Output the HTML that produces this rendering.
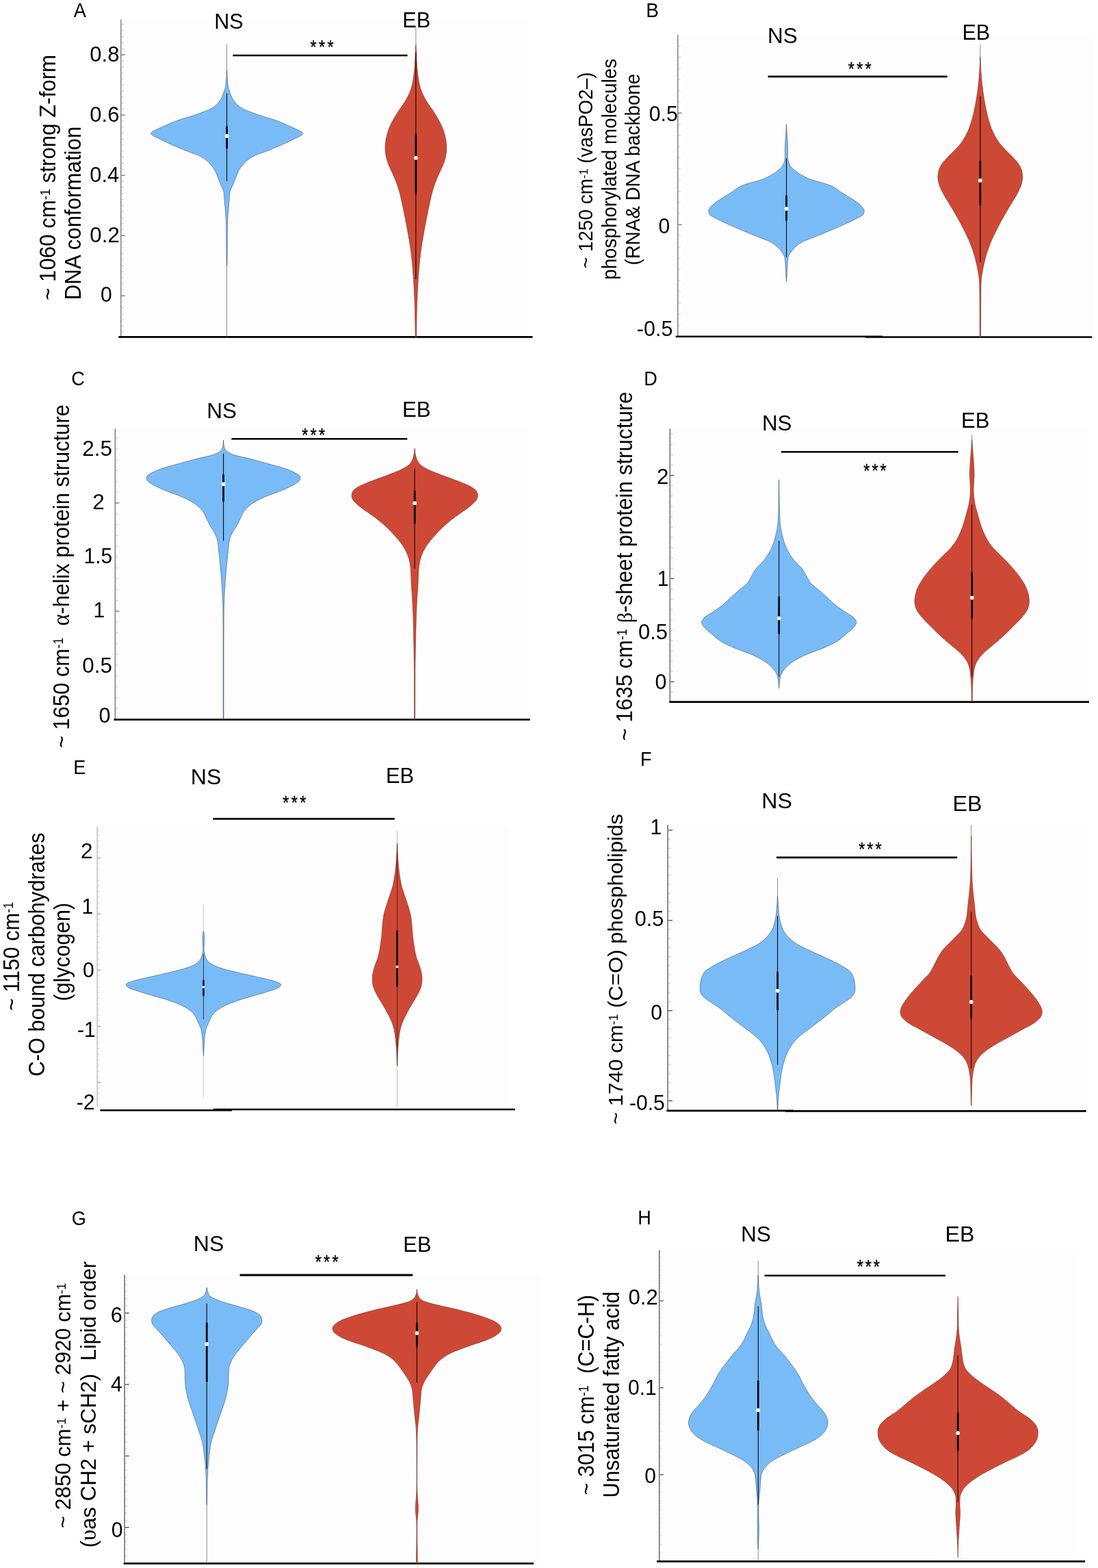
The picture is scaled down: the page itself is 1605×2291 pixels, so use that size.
<!DOCTYPE html>
<html lang="en"><head><meta charset="utf-8"><title>Violin plots of Raman band intensities: NS vs EB</title>
<style>
html,body{margin:0;padding:0;background:#fff;}
body{width:1605px;height:2291px;overflow:hidden;}
svg{display:block;font-family:"Liberation Sans",Arial,Helvetica,sans-serif;}
</style></head><body>
<svg xmlns="http://www.w3.org/2000/svg" width="1605" height="2291" viewBox="0 0 1605 2291">
<rect width="1605" height="2291" fill="#fff"/>
<rect x="177" y="28" width="594.5" height="464" fill="#fdfdfd"/>
<line x1="176.8" y1="28.4" x2="176.8" y2="494" stroke="#555" stroke-width="1.1"/>
<line x1="177.35" y1="36.1" x2="180.8" y2="36.1" stroke="#a8a8a8" stroke-width="0.7"/>
<line x1="177.35" y1="44.9" x2="180.8" y2="44.9" stroke="#a8a8a8" stroke-width="0.7"/>
<line x1="177.35" y1="53.7" x2="180.8" y2="53.7" stroke="#a8a8a8" stroke-width="0.7"/>
<line x1="177.35" y1="62.5" x2="180.8" y2="62.5" stroke="#a8a8a8" stroke-width="0.7"/>
<line x1="177.35" y1="71.3" x2="180.8" y2="71.3" stroke="#a8a8a8" stroke-width="0.7"/>
<line x1="177.35" y1="80.1" x2="182.8" y2="80.1" stroke="#4a4a4a" stroke-width="1"/>
<line x1="177.35" y1="88.9" x2="180.8" y2="88.9" stroke="#a8a8a8" stroke-width="0.7"/>
<line x1="177.35" y1="97.7" x2="180.8" y2="97.7" stroke="#a8a8a8" stroke-width="0.7"/>
<line x1="177.35" y1="106.5" x2="180.8" y2="106.5" stroke="#a8a8a8" stroke-width="0.7"/>
<line x1="177.35" y1="115.3" x2="180.8" y2="115.3" stroke="#a8a8a8" stroke-width="0.7"/>
<line x1="177.35" y1="124.1" x2="180.8" y2="124.1" stroke="#a8a8a8" stroke-width="0.7"/>
<line x1="177.35" y1="132.9" x2="180.8" y2="132.9" stroke="#a8a8a8" stroke-width="0.7"/>
<line x1="177.35" y1="141.7" x2="180.8" y2="141.7" stroke="#a8a8a8" stroke-width="0.7"/>
<line x1="177.35" y1="150.5" x2="180.8" y2="150.5" stroke="#a8a8a8" stroke-width="0.7"/>
<line x1="177.35" y1="159.3" x2="180.8" y2="159.3" stroke="#a8a8a8" stroke-width="0.7"/>
<line x1="177.35" y1="168.1" x2="182.8" y2="168.1" stroke="#4a4a4a" stroke-width="1"/>
<line x1="177.35" y1="176.9" x2="180.8" y2="176.9" stroke="#a8a8a8" stroke-width="0.7"/>
<line x1="177.35" y1="185.7" x2="180.8" y2="185.7" stroke="#a8a8a8" stroke-width="0.7"/>
<line x1="177.35" y1="194.5" x2="180.8" y2="194.5" stroke="#a8a8a8" stroke-width="0.7"/>
<line x1="177.35" y1="203.3" x2="180.8" y2="203.3" stroke="#a8a8a8" stroke-width="0.7"/>
<line x1="177.35" y1="212.1" x2="180.8" y2="212.1" stroke="#a8a8a8" stroke-width="0.7"/>
<line x1="177.35" y1="220.9" x2="180.8" y2="220.9" stroke="#a8a8a8" stroke-width="0.7"/>
<line x1="177.35" y1="229.7" x2="180.8" y2="229.7" stroke="#a8a8a8" stroke-width="0.7"/>
<line x1="177.35" y1="238.5" x2="180.8" y2="238.5" stroke="#a8a8a8" stroke-width="0.7"/>
<line x1="177.35" y1="247.3" x2="180.8" y2="247.3" stroke="#a8a8a8" stroke-width="0.7"/>
<line x1="177.35" y1="256.1" x2="182.8" y2="256.1" stroke="#4a4a4a" stroke-width="1"/>
<line x1="177.35" y1="264.9" x2="180.8" y2="264.9" stroke="#a8a8a8" stroke-width="0.7"/>
<line x1="177.35" y1="273.7" x2="180.8" y2="273.7" stroke="#a8a8a8" stroke-width="0.7"/>
<line x1="177.35" y1="282.5" x2="180.8" y2="282.5" stroke="#a8a8a8" stroke-width="0.7"/>
<line x1="177.35" y1="291.3" x2="180.8" y2="291.3" stroke="#a8a8a8" stroke-width="0.7"/>
<line x1="177.35" y1="300.1" x2="180.8" y2="300.1" stroke="#a8a8a8" stroke-width="0.7"/>
<line x1="177.35" y1="308.9" x2="180.8" y2="308.9" stroke="#a8a8a8" stroke-width="0.7"/>
<line x1="177.35" y1="317.7" x2="180.8" y2="317.7" stroke="#a8a8a8" stroke-width="0.7"/>
<line x1="177.35" y1="326.5" x2="180.8" y2="326.5" stroke="#a8a8a8" stroke-width="0.7"/>
<line x1="177.35" y1="335.3" x2="180.8" y2="335.3" stroke="#a8a8a8" stroke-width="0.7"/>
<line x1="177.35" y1="344.1" x2="182.8" y2="344.1" stroke="#4a4a4a" stroke-width="1"/>
<line x1="177.35" y1="352.9" x2="180.8" y2="352.9" stroke="#a8a8a8" stroke-width="0.7"/>
<line x1="177.35" y1="361.7" x2="180.8" y2="361.7" stroke="#a8a8a8" stroke-width="0.7"/>
<line x1="177.35" y1="370.5" x2="180.8" y2="370.5" stroke="#a8a8a8" stroke-width="0.7"/>
<line x1="177.35" y1="379.3" x2="180.8" y2="379.3" stroke="#a8a8a8" stroke-width="0.7"/>
<line x1="177.35" y1="388.1" x2="180.8" y2="388.1" stroke="#a8a8a8" stroke-width="0.7"/>
<line x1="177.35" y1="396.9" x2="180.8" y2="396.9" stroke="#a8a8a8" stroke-width="0.7"/>
<line x1="177.35" y1="405.7" x2="180.8" y2="405.7" stroke="#a8a8a8" stroke-width="0.7"/>
<line x1="177.35" y1="414.5" x2="180.8" y2="414.5" stroke="#a8a8a8" stroke-width="0.7"/>
<line x1="177.35" y1="423.3" x2="180.8" y2="423.3" stroke="#a8a8a8" stroke-width="0.7"/>
<line x1="177.35" y1="432.1" x2="182.8" y2="432.1" stroke="#4a4a4a" stroke-width="1"/>
<line x1="177.35" y1="440.9" x2="180.8" y2="440.9" stroke="#a8a8a8" stroke-width="0.7"/>
<line x1="177.35" y1="449.7" x2="180.8" y2="449.7" stroke="#a8a8a8" stroke-width="0.7"/>
<line x1="177.35" y1="458.5" x2="180.8" y2="458.5" stroke="#a8a8a8" stroke-width="0.7"/>
<line x1="177.35" y1="467.3" x2="180.8" y2="467.3" stroke="#a8a8a8" stroke-width="0.7"/>
<line x1="177.35" y1="476.1" x2="180.8" y2="476.1" stroke="#a8a8a8" stroke-width="0.7"/>
<line x1="177.35" y1="484.9" x2="180.8" y2="484.9" stroke="#a8a8a8" stroke-width="0.7"/>
<line x1="173.3" y1="492.3" x2="778.5" y2="492.3" stroke="#000" stroke-width="2.7"/>
<text transform="translate(131.36,90.3) scale(0.9685,1)" font-size="32" fill="#000" xml:space="preserve">0.8</text>
<text transform="translate(131.36,178.4) scale(0.9685,1)" font-size="32" fill="#000" xml:space="preserve">0.6</text>
<text transform="translate(131.37,266) scale(0.9612,1)" font-size="32" fill="#000" xml:space="preserve">0.4</text>
<text transform="translate(131.35,353.6) scale(0.9760,1)" font-size="32" fill="#000" xml:space="preserve">0.2</text>
<text transform="translate(146.98,441.3) scale(0.9400,1)" font-size="32" fill="#000" xml:space="preserve">0</text>
<text transform="translate(107.78,24.7) scale(0.9200,1)" font-size="29.5" fill="#000" xml:space="preserve">A</text>
<text transform="translate(80.8,438.81) rotate(-90) scale(0.9325,1)" font-size="33.5" fill="#000" xml:space="preserve"><tspan x="0" y="0" font-size="33.5">~ 1060 cm</tspan><tspan x="157.36" y="-8.21" font-size="19.43">-1</tspan><tspan x="174.64" y="0" font-size="33.5"> strong Z-form</tspan></text>
<text transform="translate(117.7,438.2) rotate(-90) scale(0.9330,1)" font-size="33.5" fill="#000" xml:space="preserve">DNA conformation</text>
<text transform="translate(313.25,42) scale(0.9514,1)" font-size="32.2" fill="#000" xml:space="preserve">NS</text>
<text transform="translate(588.13,39.9) scale(0.9576,1)" font-size="32.2" fill="#000" xml:space="preserve">EB</text>
<line x1="340.5" y1="81" x2="595.6" y2="81" stroke="#000" stroke-width="2.4"/>
<text transform="translate(453.45,78.26) scale(0.8600,1)" font-size="27.5" fill="#000" letter-spacing="3.8" stroke="#000" stroke-width="0.35" xml:space="preserve">***</text>
<line x1="331.58" y1="64.63" x2="331.58" y2="492" stroke="#5c5c5c" stroke-width="0.7"/>
<path d="M331.58,102.76C331.84,106.6 332.12,110.44 332.41,114.28C332.68,117.77 332.82,121.27 333.25,124.76C333.69,128.25 334.99,131.74 336.19,135.23C337.38,138.73 338.72,142.22 340.79,145.71C342.87,149.2 345.84,152.69 350.43,156.19C355.02,159.68 365.31,163.17 374.53,166.66C383.75,170.15 397.92,173.64 407,177.14C416.08,180.63 422.83,184.12 430.47,187.61C433.52,189.01 437.6,190.41 439.48,191.8C440.88,192.85 442.62,193.9 442.62,194.95C442.62,195.99 441.15,197.04 439.9,198.09C438.23,199.48 434.16,200.88 431.31,202.28C427.03,204.37 423.02,206.47 418.52,208.56C411.03,212.06 402.8,215.55 394.43,219.04C386.06,222.53 373.9,226.02 368.24,229.52C362.58,233.01 358.76,236.5 355.67,239.99C352.58,243.48 350.11,246.98 348.34,250.47C346.56,253.96 345.58,257.45 344.15,260.94C342.72,264.43 341.14,267.93 339.75,271.42C338.35,274.91 336.13,278.4 335.77,281.89C335.4,285.39 335.38,288.88 335.14,292.37C334.65,299.35 333.64,306.34 333.25,313.32C332.87,320.31 332.48,327.29 332.41,334.27C332.28,348.24 332.35,362.21 332.2,376.18C332.16,380.37 331.83,384.56 331.58,388.75L331.58,388.75C331.32,384.56 330.99,380.37 330.95,376.18C330.8,362.21 330.87,348.24 330.74,334.27C330.67,327.29 330.29,320.31 329.9,313.32C329.51,306.34 328.51,299.35 328.01,292.37C327.77,288.88 327.75,285.39 327.39,281.89C327.02,278.4 324.8,274.91 323.4,271.42C322.01,267.93 320.44,264.43 319,260.94C317.57,257.45 316.59,253.96 314.81,250.47C313.04,246.98 310.57,243.48 307.48,239.99C304.39,236.5 300.57,233.01 294.91,229.52C289.25,226.02 277.09,222.53 268.72,219.04C260.36,215.55 252.13,212.06 244.63,208.56C240.13,206.47 236.13,204.37 231.85,202.28C228.99,200.88 224.93,199.48 223.26,198.09C222,197.04 220.53,195.99 220.53,194.95C220.53,193.9 222.27,192.85 223.68,191.8C225.55,190.41 229.63,189.01 232.68,187.61C240.32,184.12 247.07,180.63 256.15,177.14C265.23,173.64 279.4,170.15 288.63,166.66C297.85,163.17 308.13,159.68 312.72,156.19C317.31,152.69 320.28,149.2 322.36,145.71C324.44,142.22 325.77,138.73 326.97,135.23C328.16,131.74 329.47,128.25 329.9,124.76C330.33,121.27 330.47,117.77 330.74,114.28C331.03,110.44 331.31,106.6 331.58,102.76Z" fill="#78bbf7" stroke="#2c3844" stroke-width="0.5" stroke-linejoin="round"/>
<line x1="331.58" y1="136.28" x2="331.58" y2="264.71" stroke="#120606" stroke-width="1.1"/>
<line x1="331.58" y1="185.52" x2="331.58" y2="216.11" stroke="#000" stroke-width="2.7" stroke-linecap="round"/>
<circle cx="331.58" cy="198.72" r="2.9" fill="#fff"/>
<line x1="607.89" y1="39.28" x2="607.89" y2="492" stroke="#5c5c5c" stroke-width="0.7"/>
<path d="M607.89,65.47C608.12,69.11 608.35,72.75 608.55,76.39C608.95,83.66 609.11,90.94 609.64,98.21C610.16,105.49 611.17,112.76 612.47,120.03C613.13,123.67 614.12,127.31 615.31,130.95C616.5,134.58 618.27,138.22 620.11,141.86C621.96,145.5 624.31,149.13 626.66,152.77C629.01,156.41 631.95,160.05 634.3,163.68C636.65,167.32 638.86,170.96 640.85,174.6C642.83,178.23 644.83,181.87 646.3,185.51C647.78,189.15 649.1,192.78 650.01,196.42C650.93,200.06 651.86,203.7 652.2,207.33C652.53,210.97 652.85,214.61 652.85,218.25C652.85,221.88 652.02,225.52 651.32,229.16C650.63,232.79 649.37,236.43 648.05,240.07C646.73,243.71 644.67,247.34 643.03,250.98C641.39,254.62 639.67,258.26 638.23,261.89C636.79,265.53 635.49,269.17 634.3,272.81C633.11,276.44 631.97,280.08 631.03,283.72C629.15,290.99 627.75,298.27 626.22,305.54C624.7,312.82 623.24,320.09 621.86,327.37C620.48,334.64 619.12,341.92 617.93,349.19C616.74,356.47 615.53,363.74 614.66,371.02C613.78,378.29 613.07,385.57 612.47,392.84C611.88,400.12 611.37,407.39 610.95,414.67C610.52,421.94 610.13,429.22 609.86,436.49C609.58,443.77 609.38,451.04 609.2,458.32C609.03,465.59 608.91,472.86 608.76,480.14C608.69,483.78 608.71,487.41 608.55,491.05C608.51,491.92 608.15,492.8 607.89,493.67L607.89,493.67C607.63,492.8 607.28,491.92 607.24,491.05C607.07,487.41 607.09,483.78 607.02,480.14C606.87,472.86 606.76,465.59 606.58,458.32C606.41,451.04 606.2,443.77 605.93,436.49C605.65,429.22 605.26,421.94 604.84,414.67C604.41,407.39 603.91,400.12 603.31,392.84C602.71,385.57 602,378.29 601.13,371.02C600.25,363.74 599.04,356.47 597.85,349.19C596.66,341.92 595.3,334.64 593.92,327.37C592.55,320.09 591.08,312.82 589.56,305.54C588.03,298.27 586.64,290.99 584.76,283.72C583.82,280.08 582.67,276.44 581.48,272.81C580.29,269.17 579,265.53 577.56,261.89C576.12,258.26 574.39,254.62 572.75,250.98C571.12,247.34 569.06,243.71 567.73,240.07C566.41,236.43 565.16,232.79 564.46,229.16C563.77,225.52 562.93,221.88 562.93,218.25C562.93,214.61 563.25,210.97 563.59,207.33C563.92,203.7 564.85,200.06 565.77,196.42C566.69,192.78 568.01,189.15 569.48,185.51C570.95,181.87 572.95,178.23 574.94,174.6C576.92,170.96 579.13,167.32 581.48,163.68C583.83,160.05 586.77,156.41 589.12,152.77C591.47,149.13 593.82,145.5 595.67,141.86C597.52,138.22 599.28,134.58 600.47,130.95C601.66,127.31 602.65,123.67 603.31,120.03C604.62,112.76 605.62,105.49 606.15,98.21C606.67,90.94 606.84,83.66 607.24,76.39C607.44,72.75 607.66,69.11 607.89,65.47Z" fill="#cd4935" stroke="#5e241b" stroke-width="0.5" stroke-linejoin="round"/>
<line x1="607.89" y1="76.39" x2="607.89" y2="408.12" stroke="#120606" stroke-width="1.1"/>
<line x1="607.89" y1="196.86" x2="607.89" y2="282.41" stroke="#000" stroke-width="2.7" stroke-linecap="round"/>
<circle cx="607.89" cy="230.69" r="2.9" fill="#fff"/>
<rect x="996" y="51.5" width="604" height="440.5" fill="#fdfdfd"/>
<line x1="990.8" y1="51.1" x2="990.8" y2="493" stroke="#555" stroke-width="1.1"/>
<line x1="991.35" y1="67.18" x2="994.8" y2="67.18" stroke="#a8a8a8" stroke-width="0.7"/>
<line x1="991.35" y1="83.5" x2="994.8" y2="83.5" stroke="#a8a8a8" stroke-width="0.7"/>
<line x1="991.35" y1="99.82" x2="994.8" y2="99.82" stroke="#a8a8a8" stroke-width="0.7"/>
<line x1="991.35" y1="116.14" x2="994.8" y2="116.14" stroke="#a8a8a8" stroke-width="0.7"/>
<line x1="991.35" y1="132.46" x2="994.8" y2="132.46" stroke="#a8a8a8" stroke-width="0.7"/>
<line x1="991.35" y1="148.78" x2="994.8" y2="148.78" stroke="#a8a8a8" stroke-width="0.7"/>
<line x1="991.35" y1="165.1" x2="996.8" y2="165.1" stroke="#4a4a4a" stroke-width="1"/>
<line x1="991.35" y1="181.42" x2="994.8" y2="181.42" stroke="#a8a8a8" stroke-width="0.7"/>
<line x1="991.35" y1="197.74" x2="994.8" y2="197.74" stroke="#a8a8a8" stroke-width="0.7"/>
<line x1="991.35" y1="214.06" x2="994.8" y2="214.06" stroke="#a8a8a8" stroke-width="0.7"/>
<line x1="991.35" y1="230.38" x2="994.8" y2="230.38" stroke="#a8a8a8" stroke-width="0.7"/>
<line x1="991.35" y1="246.7" x2="994.8" y2="246.7" stroke="#a8a8a8" stroke-width="0.7"/>
<line x1="991.35" y1="263.02" x2="994.8" y2="263.02" stroke="#a8a8a8" stroke-width="0.7"/>
<line x1="991.35" y1="279.34" x2="994.8" y2="279.34" stroke="#a8a8a8" stroke-width="0.7"/>
<line x1="991.35" y1="295.66" x2="994.8" y2="295.66" stroke="#a8a8a8" stroke-width="0.7"/>
<line x1="991.35" y1="311.98" x2="994.8" y2="311.98" stroke="#a8a8a8" stroke-width="0.7"/>
<line x1="991.35" y1="328.3" x2="996.8" y2="328.3" stroke="#4a4a4a" stroke-width="1"/>
<line x1="991.35" y1="344.62" x2="994.8" y2="344.62" stroke="#a8a8a8" stroke-width="0.7"/>
<line x1="991.35" y1="360.94" x2="994.8" y2="360.94" stroke="#a8a8a8" stroke-width="0.7"/>
<line x1="991.35" y1="377.26" x2="994.8" y2="377.26" stroke="#a8a8a8" stroke-width="0.7"/>
<line x1="991.35" y1="393.58" x2="994.8" y2="393.58" stroke="#a8a8a8" stroke-width="0.7"/>
<line x1="991.35" y1="409.9" x2="994.8" y2="409.9" stroke="#a8a8a8" stroke-width="0.7"/>
<line x1="991.35" y1="426.22" x2="994.8" y2="426.22" stroke="#a8a8a8" stroke-width="0.7"/>
<line x1="991.35" y1="442.54" x2="994.8" y2="442.54" stroke="#a8a8a8" stroke-width="0.7"/>
<line x1="991.35" y1="458.86" x2="994.8" y2="458.86" stroke="#a8a8a8" stroke-width="0.7"/>
<line x1="991.35" y1="475.18" x2="994.8" y2="475.18" stroke="#a8a8a8" stroke-width="0.7"/>
<line x1="987.7" y1="491.8" x2="1290" y2="491.8" stroke="#000" stroke-width="2.5"/>
<line x1="1265" y1="492.6" x2="1596.4" y2="492.6" stroke="#000" stroke-width="2.5"/>
<text transform="translate(948.79,176.6) scale(0.9447,1)" font-size="32" fill="#000" xml:space="preserve">0.5</text>
<text transform="translate(962.43,341.2) scale(0.9400,1)" font-size="32" fill="#000" xml:space="preserve">0</text>
<text transform="translate(930.83,491.3) scale(0.9537,1)" font-size="32" fill="#000" xml:space="preserve">-0.5</text>
<text transform="translate(944.26,24.5) scale(0.9504,1)" font-size="29.5" fill="#000" xml:space="preserve">B</text>
<text transform="translate(866.2,392.06) rotate(-90) scale(0.9726,1)" font-size="28.7" fill="#000" xml:space="preserve"><tspan x="0" y="0" font-size="28.7">~ 1250 cm</tspan><tspan x="134.81" y="-7.03" font-size="16.65">-1</tspan><tspan x="149.62" y="0" font-size="28.7"> (vasPO2–)</tspan></text>
<text transform="translate(900.7,408.81) rotate(-90) scale(0.9691,1)" font-size="28.7" fill="#000" xml:space="preserve">phosphorylated molecules</text>
<text transform="translate(935,387.47) rotate(-90) scale(0.9695,1)" font-size="28.7" fill="#000" xml:space="preserve">(RNA&amp; DNA backbone</text>
<text transform="translate(1121.88,62.5) scale(0.9785,1)" font-size="32.2" fill="#000" xml:space="preserve">NS</text>
<text transform="translate(1406.45,57.7) scale(0.9500,1)" font-size="32.2" fill="#000" xml:space="preserve">EB</text>
<line x1="1122.6" y1="111.8" x2="1384.7" y2="111.8" stroke="#000" stroke-width="2.8"/>
<text transform="translate(1239.75,110.46) scale(0.8600,1)" font-size="27.5" fill="#000" letter-spacing="3.74" stroke="#000" stroke-width="0.35" xml:space="preserve">***</text>
<path d="M1149.54,181.33C1149.92,186.91 1150.27,192.5 1150.58,198.09C1150.97,205.07 1151.63,212.06 1151.63,219.04C1151.63,222.53 1151.42,226.02 1151.42,229.52C1151.42,231.61 1151.98,233.71 1152.47,235.8C1152.96,237.9 1153.8,239.99 1154.98,242.09C1156.56,244.88 1159.99,247.67 1163.57,250.47C1168.05,253.96 1174.14,257.45 1182.01,260.94C1189.89,264.43 1207.63,267.93 1214.91,271.42C1222.18,274.91 1225.73,278.4 1231.25,281.89C1236.76,285.39 1243.22,288.88 1248.01,292.37C1252.8,295.86 1258.15,299.35 1260.58,302.85C1261.79,304.59 1263.3,306.34 1263.3,308.08C1263.3,309.83 1262.54,311.58 1261.63,313.32C1260.54,315.42 1255.54,317.51 1251.78,319.61C1249.28,321 1246.16,322.4 1243.19,323.8C1235.76,327.29 1227.82,330.78 1219.73,334.27C1211.63,337.77 1202.89,341.26 1194.58,344.75C1186.27,348.24 1175.16,351.73 1169.86,355.22C1164.56,358.72 1160.8,362.21 1158.13,365.7C1155.46,369.19 1152.65,372.68 1152.05,376.18C1151.46,379.67 1151.2,383.16 1151,386.65C1150.8,390.14 1150.76,393.64 1150.58,397.13C1150.34,402.02 1149.98,406.91 1149.54,411.79L1149.54,411.79C1149.1,406.91 1148.74,402.02 1148.49,397.13C1148.31,393.64 1148.27,390.14 1148.07,386.65C1147.87,383.16 1147.62,379.67 1147.02,376.18C1146.43,372.68 1143.62,369.19 1140.95,365.7C1138.28,362.21 1134.52,358.72 1129.21,355.22C1123.91,351.73 1112.8,348.24 1104.49,344.75C1096.18,341.26 1087.44,337.77 1079.35,334.27C1071.26,330.78 1063.31,327.29 1055.88,323.8C1052.91,322.4 1049.8,321 1047.29,319.61C1043.54,317.51 1038.54,315.42 1037.45,313.32C1036.54,311.58 1035.77,309.83 1035.77,308.08C1035.77,306.34 1037.28,304.59 1038.49,302.85C1040.92,299.35 1046.28,295.86 1051.07,292.37C1055.85,288.88 1062.31,285.39 1067.83,281.89C1073.34,278.4 1076.89,274.91 1084.17,271.42C1091.45,267.93 1109.19,264.43 1117.06,260.94C1124.94,257.45 1131.02,253.96 1135.5,250.47C1139.08,247.67 1142.52,244.88 1144.09,242.09C1145.27,239.99 1146.11,237.9 1146.6,235.8C1147.1,233.71 1147.65,231.61 1147.65,229.52C1147.65,226.02 1147.44,222.53 1147.44,219.04C1147.44,212.06 1148.1,205.07 1148.49,198.09C1148.8,192.5 1149.16,186.91 1149.54,181.33Z" fill="#78bbf7" stroke="#2c3844" stroke-width="0.5" stroke-linejoin="round"/>
<line x1="1149.54" y1="231.19" x2="1149.54" y2="375.76" stroke="#120606" stroke-width="1.1"/>
<line x1="1149.54" y1="286.5" x2="1149.54" y2="321.7" stroke="#000" stroke-width="2.7" stroke-linecap="round"/>
<circle cx="1149.54" cy="304.94" r="2.9" fill="#fff"/>
<line x1="1432.89" y1="65.46" x2="1432.89" y2="492" stroke="#5c5c5c" stroke-width="0.7"/>
<path d="M1432.89,82.85C1433.1,89.84 1433.49,96.82 1433.94,103.81C1434.39,110.79 1435.06,117.77 1435.82,124.76C1436.59,131.74 1437.61,138.73 1438.76,145.71C1439.91,152.69 1441.27,159.68 1442.95,166.66C1444.62,173.64 1446.63,180.63 1449.23,187.61C1450.53,191.1 1452.21,194.6 1454.05,198.09C1455.89,201.58 1458.01,205.07 1460.55,208.56C1463.09,212.06 1466.5,215.55 1469.76,219.04C1473.03,222.53 1477.01,226.02 1480.24,229.52C1483.47,233.01 1487.22,236.5 1489.25,239.99C1491.28,243.48 1493.19,246.98 1493.86,250.47C1494.39,253.26 1494.91,256.05 1494.91,258.85C1494.91,261.64 1494.24,264.43 1493.65,267.23C1492.62,272.12 1489.96,277.01 1487.57,281.89C1485.87,285.39 1483.55,288.88 1481.5,292.37C1477.39,299.35 1472.9,306.34 1468.93,313.32C1464.96,320.31 1461.12,327.29 1457.61,334.27C1454.1,341.26 1450.52,348.24 1447.77,355.22C1445.01,362.21 1442.51,369.19 1440.64,376.18C1438.78,383.16 1437.2,390.14 1436.03,397.13C1435.45,400.62 1434.86,404.11 1434.57,407.6C1434.27,411.1 1434,414.59 1433.94,418.08C1433.81,425.06 1433.77,432.05 1433.73,439.03C1433.62,456.49 1433.71,473.95 1433.52,491.41C1433.51,492.25 1433.11,493.09 1432.89,493.92L1432.89,493.92C1432.67,493.09 1432.27,492.25 1432.26,491.41C1432.07,473.95 1432.16,456.49 1432.05,439.03C1432.01,432.05 1431.97,425.06 1431.84,418.08C1431.78,414.59 1431.51,411.1 1431.21,407.6C1430.92,404.11 1430.33,400.62 1429.75,397.13C1428.58,390.14 1427,383.16 1425.14,376.18C1423.27,369.19 1420.77,362.21 1418.01,355.22C1415.26,348.24 1411.68,341.26 1408.17,334.27C1404.66,327.29 1400.82,320.31 1396.85,313.32C1392.88,306.34 1388.39,299.35 1384.28,292.37C1382.23,288.88 1379.91,285.39 1378.21,281.89C1375.82,277.01 1373.16,272.12 1372.13,267.23C1371.54,264.43 1370.87,261.64 1370.87,258.85C1370.87,256.05 1371.39,253.26 1371.92,250.47C1372.59,246.98 1374.5,243.48 1376.53,239.99C1378.56,236.5 1382.31,233.01 1385.54,229.52C1388.77,226.02 1392.75,222.53 1396.01,219.04C1399.28,215.55 1402.69,212.06 1405.23,208.56C1407.77,205.07 1409.88,201.58 1411.73,198.09C1413.57,194.6 1415.25,191.1 1416.55,187.61C1419.14,180.63 1421.16,173.64 1422.83,166.66C1424.51,159.68 1425.87,152.69 1427.02,145.71C1428.17,138.73 1429.19,131.74 1429.96,124.76C1430.72,117.77 1431.39,110.79 1431.84,103.81C1432.29,96.82 1432.68,89.84 1432.89,82.85Z" fill="#cd4935" stroke="#5e241b" stroke-width="0.5" stroke-linejoin="round"/>
<line x1="1432.89" y1="140.47" x2="1432.89" y2="383.09" stroke="#120606" stroke-width="1.1"/>
<line x1="1432.89" y1="236.22" x2="1432.89" y2="298.87" stroke="#000" stroke-width="2.7" stroke-linecap="round"/>
<circle cx="1432.89" cy="263.67" r="2.9" fill="#fff"/>
<rect x="168.5" y="626.5" width="605.7" height="425" fill="#fdfdfd"/>
<line x1="168.3" y1="626.6" x2="168.3" y2="1052.5" stroke="#555" stroke-width="1.1"/>
<line x1="168.85" y1="640.2" x2="172.3" y2="640.2" stroke="#a8a8a8" stroke-width="0.7"/>
<line x1="168.85" y1="656" x2="172.3" y2="656" stroke="#a8a8a8" stroke-width="0.7"/>
<line x1="168.85" y1="671.8" x2="172.3" y2="671.8" stroke="#a8a8a8" stroke-width="0.7"/>
<line x1="168.85" y1="687.6" x2="172.3" y2="687.6" stroke="#a8a8a8" stroke-width="0.7"/>
<line x1="168.85" y1="703.4" x2="172.3" y2="703.4" stroke="#a8a8a8" stroke-width="0.7"/>
<line x1="168.85" y1="719.2" x2="172.3" y2="719.2" stroke="#a8a8a8" stroke-width="0.7"/>
<line x1="168.85" y1="735" x2="174.3" y2="735" stroke="#4a4a4a" stroke-width="1"/>
<line x1="168.85" y1="750.8" x2="172.3" y2="750.8" stroke="#a8a8a8" stroke-width="0.7"/>
<line x1="168.85" y1="766.6" x2="172.3" y2="766.6" stroke="#a8a8a8" stroke-width="0.7"/>
<line x1="168.85" y1="782.4" x2="172.3" y2="782.4" stroke="#a8a8a8" stroke-width="0.7"/>
<line x1="168.85" y1="798.2" x2="172.3" y2="798.2" stroke="#a8a8a8" stroke-width="0.7"/>
<line x1="168.85" y1="814" x2="172.3" y2="814" stroke="#a8a8a8" stroke-width="0.7"/>
<line x1="168.85" y1="829.8" x2="172.3" y2="829.8" stroke="#a8a8a8" stroke-width="0.7"/>
<line x1="168.85" y1="845.6" x2="172.3" y2="845.6" stroke="#a8a8a8" stroke-width="0.7"/>
<line x1="168.85" y1="861.4" x2="172.3" y2="861.4" stroke="#a8a8a8" stroke-width="0.7"/>
<line x1="168.85" y1="877.2" x2="172.3" y2="877.2" stroke="#a8a8a8" stroke-width="0.7"/>
<line x1="168.85" y1="893" x2="174.3" y2="893" stroke="#4a4a4a" stroke-width="1"/>
<line x1="168.85" y1="908.8" x2="172.3" y2="908.8" stroke="#a8a8a8" stroke-width="0.7"/>
<line x1="168.85" y1="924.6" x2="172.3" y2="924.6" stroke="#a8a8a8" stroke-width="0.7"/>
<line x1="168.85" y1="940.4" x2="172.3" y2="940.4" stroke="#a8a8a8" stroke-width="0.7"/>
<line x1="168.85" y1="956.2" x2="172.3" y2="956.2" stroke="#a8a8a8" stroke-width="0.7"/>
<line x1="168.85" y1="972" x2="172.3" y2="972" stroke="#a8a8a8" stroke-width="0.7"/>
<line x1="168.85" y1="987.8" x2="172.3" y2="987.8" stroke="#a8a8a8" stroke-width="0.7"/>
<line x1="168.85" y1="1003.6" x2="172.3" y2="1003.6" stroke="#a8a8a8" stroke-width="0.7"/>
<line x1="168.85" y1="1019.4" x2="172.3" y2="1019.4" stroke="#a8a8a8" stroke-width="0.7"/>
<line x1="168.85" y1="1035.2" x2="172.3" y2="1035.2" stroke="#a8a8a8" stroke-width="0.7"/>
<line x1="166.5" y1="1051.4" x2="774.8" y2="1051.4" stroke="#000" stroke-width="2.7"/>
<text transform="translate(120.14,666.4) scale(0.9850,1)" font-size="32" fill="#000" xml:space="preserve">2.5</text>
<text transform="translate(135.3,743.7) scale(0.9850,1)" font-size="32" fill="#000" xml:space="preserve">2</text>
<text transform="translate(122.52,823.3) scale(0.9400,1)" font-size="32" fill="#000" xml:space="preserve">1.5</text>
<text transform="translate(136.55,901.8) scale(0.9400,1)" font-size="32" fill="#000" xml:space="preserve">1</text>
<text transform="translate(120.34,982.8) scale(0.9828,1)" font-size="32" fill="#000" xml:space="preserve">0.5</text>
<text transform="translate(144.38,1056.3) scale(0.9570,1)" font-size="32" fill="#000" xml:space="preserve">0</text>
<text transform="translate(104.24,563) scale(0.9235,1)" font-size="29.5" fill="#000" xml:space="preserve">C</text>
<text transform="translate(100.7,1093.09) rotate(-90) scale(0.9248,1)" font-size="33.5" fill="#000" xml:space="preserve"><tspan x="0" y="0" font-size="33.5">~ 1650 cm</tspan><tspan x="157.36" y="-8.21" font-size="19.43">-1</tspan><tspan x="174.64" y="0" font-size="33.5">  </tspan><tspan x="193.25" y="0" font-size="35.18" font-family="Liberation Serif,serif">α</tspan><tspan x="211.68" y="0" font-size="33.5">-helix protein structure</tspan></text>
<text transform="translate(302.28,611) scale(0.9785,1)" font-size="32.2" fill="#000" xml:space="preserve">NS</text>
<text transform="translate(587.89,609.3) scale(0.9731,1)" font-size="32.2" fill="#000" xml:space="preserve">EB</text>
<line x1="338.4" y1="641.2" x2="595.3" y2="641.2" stroke="#000" stroke-width="2.6"/>
<text transform="translate(441.15,645.36) scale(0.8600,1)" font-size="27.5" fill="#000" letter-spacing="3.8" stroke="#000" stroke-width="0.35" xml:space="preserve">***</text>
<line x1="326.6" y1="643.27" x2="326.6" y2="1051" stroke="#5c5c5c" stroke-width="0.7"/>
<path d="M326.6,643.27C326.6,645.93 327.01,648.58 327.44,651.24C327.78,653.33 328.38,655.43 329.54,657.52C330.69,659.62 334.81,661.71 339.59,663.81C344.38,665.9 356.72,668 364.74,670.09C372.75,672.19 380.27,674.28 387.78,676.38C397.8,679.17 409.37,681.96 417.11,684.76C422.93,686.85 428.35,688.95 431.78,691.04C434.64,692.79 438.09,694.54 438.49,696.28C438.72,697.33 438.9,698.38 438.9,699.42C438.9,700.82 437.57,702.22 436.39,703.61C434.62,705.71 430.19,707.8 426.33,709.9C422.48,711.99 417.61,714.09 412.71,716.19C404.55,719.68 393.09,723.17 385.69,726.66C378.28,730.15 371.32,733.64 366.83,737.14C362.34,740.63 358.68,744.12 356.36,747.61C354.03,751.1 352.86,754.6 351.12,758.09C349.37,761.58 347.81,765.07 345.88,768.56C343.95,772.06 341.03,775.55 339.38,779.04C337.74,782.53 336.12,786.02 335.4,789.52C334.69,793.01 334.34,796.5 333.94,799.99C333.53,803.48 333.24,806.98 332.89,810.47C332.19,817.45 331.42,824.43 330.79,831.42C330.17,838.4 329.6,845.39 329.12,852.37C328.64,859.35 328.14,866.34 327.86,873.32C327.58,880.31 327.3,887.29 327.23,894.27C327.1,908.24 327.05,922.21 327.02,936.18C326.96,973.89 327.02,1011.6 326.92,1049.31C326.92,1050.01 326.71,1050.71 326.6,1051.41L326.6,1051.41C326.5,1050.71 326.29,1050.01 326.29,1049.31C326.19,1011.6 326.25,973.89 326.19,936.18C326.16,922.21 326.11,908.24 325.98,894.27C325.91,887.29 325.63,880.31 325.35,873.32C325.07,866.34 324.57,859.35 324.09,852.37C323.61,845.39 323.03,838.4 322.41,831.42C321.79,824.43 321.02,817.45 320.32,810.47C319.97,806.98 319.68,803.48 319.27,799.99C318.86,796.5 318.52,793.01 317.8,789.52C317.09,786.02 315.47,782.53 313.82,779.04C312.18,775.55 309.26,772.06 307.33,768.56C305.4,765.07 303.84,761.58 302.09,758.09C300.34,754.6 299.18,751.1 296.85,747.61C294.52,744.12 290.87,740.63 286.38,737.14C281.89,733.64 274.93,730.15 267.52,726.66C260.12,723.17 248.66,719.68 240.49,716.19C235.59,714.09 230.73,711.99 226.87,709.9C223.02,707.8 218.59,705.71 216.82,703.61C215.63,702.22 214.3,700.82 214.3,699.42C214.3,698.38 214.49,697.33 214.72,696.28C215.12,694.54 218.57,692.79 221.43,691.04C224.86,688.95 230.28,686.85 236.09,684.76C243.84,681.96 255.41,679.17 265.43,676.38C272.94,674.28 280.46,672.19 288.47,670.09C296.49,668 308.83,665.9 313.61,663.81C318.4,661.71 322.51,659.62 323.67,657.52C324.83,655.43 325.42,653.33 325.77,651.24C326.2,648.58 326.6,645.93 326.6,643.27Z" fill="#78bbf7" stroke="#2c3844" stroke-width="0.5" stroke-linejoin="round"/>
<line x1="326.6" y1="662.76" x2="326.6" y2="790.14" stroke="#120606" stroke-width="1.1"/>
<line x1="326.6" y1="693.98" x2="326.6" y2="732.11" stroke="#000" stroke-width="2.7" stroke-linecap="round"/>
<circle cx="326.6" cy="707.39" r="2.9" fill="#fff"/>
<line x1="606.19" y1="655.43" x2="606.19" y2="1051" stroke="#5c5c5c" stroke-width="0.7"/>
<path d="M606.19,655.43C606.29,658.22 606.74,661.01 607.23,663.81C607.73,666.6 608.57,669.39 609.75,672.19C610.63,674.28 612,676.38 613.94,678.47C615.87,680.57 619.58,682.66 623.37,684.76C627.15,686.85 632.48,688.95 637.61,691.04C642.75,693.14 648.83,695.23 654.37,697.33C661.77,700.12 669.77,702.92 676.37,705.71C681.32,707.8 686.93,709.9 689.99,711.99C693.05,714.09 695.99,716.19 696.91,718.28C697.67,720.03 698.37,721.77 698.37,723.52C698.37,725.26 697.87,727.01 697.32,728.76C696.46,731.55 692.89,734.34 689.99,737.14C686.37,740.63 681.08,744.12 676.37,747.61C671.67,751.1 666.22,754.6 661.71,758.09C657.19,761.58 652.95,765.07 649.14,768.56C645.33,772.06 641.93,775.55 638.66,779.04C635.39,782.53 632.21,786.02 629.44,789.52C626.68,793.01 623.96,796.5 621.9,799.99C619.84,803.48 617.97,806.98 616.66,810.47C615.35,813.96 614.18,817.45 613.52,820.94C612.85,824.43 612.28,827.93 612.05,831.42C611.59,838.4 611.57,845.39 611.21,852.37C610.86,859.35 610.15,866.34 609.75,873.32C609.34,880.31 608.96,887.29 608.7,894.27C608.44,901.26 608.24,908.24 608.07,915.22C607.9,922.21 607.79,929.19 607.65,936.18C607.51,943.16 607.37,950.14 607.23,957.13C607.09,964.11 606.86,971.1 606.81,978.08C606.67,1001.82 606.8,1025.57 606.6,1049.31C606.6,1050.01 606.33,1050.71 606.19,1051.41L606.19,1051.41C606.04,1050.71 605.77,1050.01 605.77,1049.31C605.57,1025.57 605.7,1001.82 605.56,978.08C605.52,971.1 605.28,964.11 605.14,957.13C605,950.14 604.86,943.16 604.72,936.18C604.58,929.19 604.47,922.21 604.3,915.22C604.13,908.24 603.93,901.26 603.67,894.27C603.41,887.29 603.03,880.31 602.62,873.32C602.22,866.34 601.51,859.35 601.16,852.37C600.8,845.39 600.78,838.4 600.32,831.42C600.09,827.93 599.52,824.43 598.85,820.94C598.19,817.45 597.02,813.96 595.71,810.47C594.4,806.98 592.53,803.48 590.47,799.99C588.41,796.5 585.69,793.01 582.93,789.52C580.16,786.02 576.98,782.53 573.71,779.04C570.44,775.55 567.04,772.06 563.23,768.56C559.43,765.07 555.18,761.58 550.66,758.09C546.15,754.6 540.71,751.1 536,747.61C531.29,744.12 526.01,740.63 522.38,737.14C519.48,734.34 515.91,731.55 515.05,728.76C514.5,727.01 514,725.26 514,723.52C514,721.77 514.7,720.03 515.46,718.28C516.38,716.19 519.32,714.09 522.38,711.99C525.44,709.9 531.05,707.8 536,705.71C542.6,702.92 550.6,700.12 558,697.33C563.54,695.23 569.62,693.14 574.76,691.04C579.89,688.95 585.22,686.85 589,684.76C592.79,682.66 596.5,680.57 598.43,678.47C600.37,676.38 601.74,674.28 602.62,672.19C603.8,669.39 604.64,666.6 605.14,663.81C605.63,661.01 606.08,658.22 606.19,655.43Z" fill="#cd4935" stroke="#5e241b" stroke-width="0.5" stroke-linejoin="round"/>
<line x1="606.19" y1="684.13" x2="606.19" y2="830.79" stroke="#120606" stroke-width="1.1"/>
<line x1="606.19" y1="718.07" x2="606.19" y2="763.95" stroke="#000" stroke-width="2.7" stroke-linecap="round"/>
<circle cx="606.19" cy="735.04" r="2.9" fill="#fff"/>
<rect x="979.5" y="626.3" width="611.8" height="399.7" fill="#fdfdfd"/>
<line x1="979.3" y1="626.2" x2="979.3" y2="1027" stroke="#7c7c80" stroke-width="1.8"/>
<line x1="980.2" y1="634.28" x2="983.3" y2="634.28" stroke="#a8a8a8" stroke-width="0.7"/>
<line x1="980.2" y1="649.36" x2="983.3" y2="649.36" stroke="#a8a8a8" stroke-width="0.7"/>
<line x1="980.2" y1="664.44" x2="983.3" y2="664.44" stroke="#a8a8a8" stroke-width="0.7"/>
<line x1="980.2" y1="679.52" x2="983.3" y2="679.52" stroke="#a8a8a8" stroke-width="0.7"/>
<line x1="980.2" y1="694.6" x2="985.3" y2="694.6" stroke="#4a4a4a" stroke-width="1.3"/>
<line x1="980.2" y1="709.68" x2="983.3" y2="709.68" stroke="#a8a8a8" stroke-width="0.7"/>
<line x1="980.2" y1="724.76" x2="983.3" y2="724.76" stroke="#a8a8a8" stroke-width="0.7"/>
<line x1="980.2" y1="739.84" x2="983.3" y2="739.84" stroke="#a8a8a8" stroke-width="0.7"/>
<line x1="980.2" y1="754.92" x2="983.3" y2="754.92" stroke="#a8a8a8" stroke-width="0.7"/>
<line x1="980.2" y1="770" x2="983.3" y2="770" stroke="#a8a8a8" stroke-width="0.7"/>
<line x1="980.2" y1="785.08" x2="983.3" y2="785.08" stroke="#a8a8a8" stroke-width="0.7"/>
<line x1="980.2" y1="800.16" x2="983.3" y2="800.16" stroke="#a8a8a8" stroke-width="0.7"/>
<line x1="980.2" y1="815.24" x2="983.3" y2="815.24" stroke="#a8a8a8" stroke-width="0.7"/>
<line x1="980.2" y1="830.32" x2="983.3" y2="830.32" stroke="#a8a8a8" stroke-width="0.7"/>
<line x1="980.2" y1="845.4" x2="985.3" y2="845.4" stroke="#4a4a4a" stroke-width="1.3"/>
<line x1="980.2" y1="860.48" x2="983.3" y2="860.48" stroke="#a8a8a8" stroke-width="0.7"/>
<line x1="980.2" y1="875.56" x2="983.3" y2="875.56" stroke="#a8a8a8" stroke-width="0.7"/>
<line x1="980.2" y1="890.64" x2="983.3" y2="890.64" stroke="#a8a8a8" stroke-width="0.7"/>
<line x1="980.2" y1="905.72" x2="983.3" y2="905.72" stroke="#a8a8a8" stroke-width="0.7"/>
<line x1="980.2" y1="920.8" x2="983.3" y2="920.8" stroke="#a8a8a8" stroke-width="0.7"/>
<line x1="980.2" y1="935.88" x2="983.3" y2="935.88" stroke="#a8a8a8" stroke-width="0.7"/>
<line x1="980.2" y1="950.96" x2="983.3" y2="950.96" stroke="#a8a8a8" stroke-width="0.7"/>
<line x1="980.2" y1="966.04" x2="983.3" y2="966.04" stroke="#a8a8a8" stroke-width="0.7"/>
<line x1="980.2" y1="981.12" x2="983.3" y2="981.12" stroke="#a8a8a8" stroke-width="0.7"/>
<line x1="980.2" y1="996.2" x2="985.3" y2="996.2" stroke="#4a4a4a" stroke-width="1.3"/>
<line x1="980.2" y1="1011.28" x2="983.3" y2="1011.28" stroke="#a8a8a8" stroke-width="0.7"/>
<line x1="978.4" y1="1025.6" x2="1592" y2="1025.6" stroke="#000" stroke-width="2.7"/>
<text transform="translate(960.03,706.6) scale(0.9821,1)" font-size="32" fill="#000" xml:space="preserve">2</text>
<text transform="translate(960.85,855.7) scale(0.9400,1)" font-size="32" fill="#000" xml:space="preserve">1</text>
<text transform="translate(932.96,933.6) scale(0.9661,1)" font-size="32" fill="#000" xml:space="preserve">0.5</text>
<text transform="translate(957.58,1007.1) scale(0.9505,1)" font-size="32" fill="#000" xml:space="preserve">0</text>
<text transform="translate(941.3,563.4) scale(0.9200,1)" font-size="29.5" fill="#000" xml:space="preserve">D</text>
<text transform="translate(923.8,1082.51) rotate(-90) scale(0.9372,1)" font-size="33.5" fill="#000" xml:space="preserve"><tspan x="0" y="0" font-size="33.5">~ 1635 cm</tspan><tspan x="157.36" y="-8.21" font-size="19.43">-1</tspan><tspan x="174.64" y="0" font-size="33.5"> </tspan><tspan x="183.95" y="0" font-size="31.82" font-family="Liberation Serif,serif">β</tspan><tspan x="200.14" y="0" font-size="33.5">-sheet protein structure</tspan></text>
<text transform="translate(1113.99,629.3) scale(0.9736,1)" font-size="32.2" fill="#000" xml:space="preserve">NS</text>
<text transform="translate(1405.02,624.6) scale(0.9627,1)" font-size="32.2" fill="#000" xml:space="preserve">EB</text>
<line x1="1141.9" y1="660.3" x2="1400.7" y2="660.3" stroke="#000" stroke-width="2.6"/>
<text transform="translate(1262.25,696.56) scale(0.8600,1)" font-size="27.5" fill="#000" letter-spacing="3.45" stroke="#000" stroke-width="0.35" xml:space="preserve">***</text>
<path d="M1138.7,701.1C1138.82,709.62 1138.96,718.14 1139.12,726.66C1139.24,733.64 1139.34,740.63 1139.54,747.61C1139.67,752.5 1139.85,757.39 1140.17,762.28C1140.39,765.77 1140.87,769.26 1141.42,772.75C1141.87,775.55 1142.65,778.34 1143.31,781.13C1143.97,783.93 1144.58,786.72 1145.4,789.52C1146.43,793.01 1147.67,796.5 1149.18,799.99C1150.68,803.48 1152.65,806.98 1154.83,810.47C1157.01,813.96 1159.64,817.45 1162.58,820.94C1165.53,824.43 1170.31,827.93 1172.85,831.42C1175.39,834.91 1176.87,838.4 1178.93,841.89C1180.99,845.39 1182.42,848.88 1185.21,852.37C1188.01,855.86 1193.77,859.35 1197.78,862.85C1201.79,866.34 1205.46,869.83 1209.31,873.32C1213.15,876.81 1216.53,880.31 1220.83,883.8C1225.13,887.29 1230.43,890.78 1235.5,894.27C1239.55,897.07 1245.72,899.86 1248.07,902.65C1249.83,904.75 1251.84,906.84 1251.84,908.94C1251.84,911.03 1250.37,913.13 1249.11,915.22C1247.02,918.72 1241.6,922.21 1237.59,925.7C1233.58,929.19 1230.26,932.68 1225.02,936.18C1219.78,939.67 1211.96,943.16 1204.07,946.65C1196.17,950.14 1184.26,953.64 1176.83,957.13C1169.4,960.62 1162.74,964.11 1157.97,967.6C1153.21,971.1 1148.98,974.59 1146.45,978.08C1143.92,981.57 1141.57,985.06 1140.79,988.56C1140.02,992.05 1139.71,995.54 1139.33,999.03C1139.08,1001.34 1138.86,1003.64 1138.7,1005.95L1138.7,1005.95C1138.53,1003.64 1138.32,1001.34 1138.07,999.03C1137.69,995.54 1137.38,992.05 1136.6,988.56C1135.83,985.06 1133.48,981.57 1130.95,978.08C1128.42,974.59 1124.19,971.1 1119.42,967.6C1114.66,964.11 1108,960.62 1100.57,957.13C1093.14,953.64 1081.23,950.14 1073.33,946.65C1065.44,943.16 1057.62,939.67 1052.38,936.18C1047.14,932.68 1043.82,929.19 1039.81,925.7C1035.8,922.21 1030.38,918.72 1028.28,915.22C1027.03,913.13 1025.56,911.03 1025.56,908.94C1025.56,906.84 1027.57,904.75 1029.33,902.65C1031.68,899.86 1037.85,897.07 1041.9,894.27C1046.97,890.78 1052.27,887.29 1056.57,883.8C1060.87,880.31 1064.25,876.81 1068.09,873.32C1071.93,869.83 1075.61,866.34 1079.62,862.85C1083.62,859.35 1089.39,855.86 1092.19,852.37C1094.98,848.88 1096.41,845.39 1098.47,841.89C1100.53,838.4 1102,834.91 1104.55,831.42C1107.09,827.93 1111.87,824.43 1114.81,820.94C1117.76,817.45 1120.39,813.96 1122.57,810.47C1124.75,806.98 1126.71,803.48 1128.22,799.99C1129.73,796.5 1130.97,793.01 1131.99,789.52C1132.81,786.72 1133.43,783.93 1134.09,781.13C1134.75,778.34 1135.53,775.55 1135.98,772.75C1136.53,769.26 1137.01,765.77 1137.23,762.28C1137.55,757.39 1137.72,752.5 1137.86,747.61C1138.06,740.63 1138.15,733.64 1138.28,726.66C1138.43,718.14 1138.58,709.62 1138.7,701.1Z" fill="#78bbf7" stroke="#2c3844" stroke-width="0.5" stroke-linejoin="round"/>
<line x1="1138.7" y1="790.14" x2="1138.7" y2="988.56" stroke="#120606" stroke-width="1.1"/>
<line x1="1138.7" y1="872.69" x2="1138.7" y2="925.28" stroke="#000" stroke-width="2.7" stroke-linecap="round"/>
<circle cx="1138.7" cy="903.28" r="2.9" fill="#fff"/>
<line x1="1420.77" y1="635.1" x2="1420.77" y2="1025" stroke="#5c5c5c" stroke-width="0.7"/>
<path d="M1420.77,642.85C1421.36,649.84 1421.92,656.82 1422.44,663.81C1422.96,670.79 1423.7,677.77 1423.91,684.76C1424.01,688.25 1424.12,691.74 1424.12,695.23C1424.12,698.73 1423.66,702.22 1423.49,705.71C1423.32,709.2 1423.07,712.69 1423.07,716.19C1423.07,719.68 1423.39,723.17 1423.7,726.66C1424,730.15 1424.68,733.64 1425.38,737.14C1426.07,740.63 1427.16,744.12 1428.1,747.61C1429.04,751.1 1430.02,754.6 1431.03,758.09C1432.04,761.58 1432.98,765.07 1434.18,768.56C1435.37,772.06 1436.81,775.55 1438.37,779.04C1439.92,782.53 1441.54,786.02 1443.6,789.52C1445.66,793.01 1448.22,796.5 1451.15,799.99C1454.07,803.48 1458.13,806.98 1461.62,810.47C1465.11,813.96 1468.79,817.45 1472.1,820.94C1475.41,824.43 1478.57,827.93 1481.53,831.42C1484.48,834.91 1487.38,838.4 1489.91,841.89C1492.43,845.39 1494.93,848.88 1496.82,852.37C1498.71,855.86 1500.54,859.35 1501.64,862.85C1502.74,866.34 1503.81,869.83 1504.15,873.32C1504.36,875.42 1504.57,877.51 1504.57,879.61C1504.57,882.4 1503.71,885.19 1502.9,887.99C1502.29,890.08 1501.02,892.18 1499.75,894.27C1497.65,897.77 1494.48,901.26 1491.37,904.75C1488.27,908.24 1484.39,911.73 1480.9,915.22C1477.41,918.72 1474.08,922.21 1470.42,925.7C1466.76,929.19 1462.91,932.68 1458.9,936.18C1454.89,939.67 1450.34,943.16 1446.33,946.65C1442.32,950.14 1437.79,953.64 1434.8,957.13C1431.82,960.62 1429.07,964.11 1427.47,967.6C1425.87,971.1 1424.53,974.59 1423.91,978.08C1423.29,981.57 1422.99,985.06 1422.65,988.56C1422.32,992.05 1422,995.54 1421.81,999.03C1421.63,1002.52 1421.47,1006.01 1421.39,1009.51C1421.29,1014.4 1421.36,1019.28 1421.19,1024.17C1421.17,1024.66 1420.92,1025.15 1420.77,1025.64L1420.77,1025.64C1420.61,1025.15 1420.36,1024.66 1420.35,1024.17C1420.17,1019.28 1420.24,1014.4 1420.14,1009.51C1420.06,1006.01 1419.9,1002.52 1419.72,999.03C1419.53,995.54 1419.22,992.05 1418.88,988.56C1418.55,985.06 1418.24,981.57 1417.62,978.08C1417,974.59 1415.66,971.1 1414.06,967.6C1412.46,964.11 1409.72,960.62 1406.73,957.13C1403.74,953.64 1399.21,950.14 1395.21,946.65C1391.2,943.16 1386.64,939.67 1382.63,936.18C1378.63,932.68 1374.77,929.19 1371.11,925.7C1367.45,922.21 1364.13,918.72 1360.64,915.22C1357.14,911.73 1353.26,908.24 1350.16,904.75C1347.06,901.26 1343.89,897.77 1341.78,894.27C1340.51,892.18 1339.25,890.08 1338.64,887.99C1337.82,885.19 1336.96,882.4 1336.96,879.61C1336.96,877.51 1337.17,875.42 1337.38,873.32C1337.73,869.83 1338.79,866.34 1339.89,862.85C1340.99,859.35 1342.82,855.86 1344.71,852.37C1346.61,848.88 1349.1,845.39 1351.63,841.89C1354.15,838.4 1357.05,834.91 1360.01,831.42C1362.96,827.93 1366.13,824.43 1369.43,820.94C1372.74,817.45 1376.42,813.96 1379.91,810.47C1383.4,806.98 1387.46,803.48 1390.39,799.99C1393.31,796.5 1395.87,793.01 1397.93,789.52C1399.99,786.02 1401.61,782.53 1403.17,779.04C1404.72,775.55 1406.16,772.06 1407.36,768.56C1408.55,765.07 1409.49,761.58 1410.5,758.09C1411.51,754.6 1412.49,751.1 1413.43,747.61C1414.37,744.12 1415.46,740.63 1416.16,737.14C1416.85,733.64 1417.53,730.15 1417.83,726.66C1418.14,723.17 1418.46,719.68 1418.46,716.19C1418.46,712.69 1418.21,709.2 1418.04,705.71C1417.87,702.22 1417.41,698.73 1417.41,695.23C1417.41,691.74 1417.52,688.25 1417.62,684.76C1417.83,677.77 1418.57,670.79 1419.09,663.81C1419.61,656.82 1420.17,649.84 1420.77,642.85Z" fill="#cd4935" stroke="#5e241b" stroke-width="0.5" stroke-linejoin="round"/>
<line x1="1420.77" y1="737.14" x2="1420.77" y2="988.56" stroke="#120606" stroke-width="1.1"/>
<line x1="1420.77" y1="837.49" x2="1420.77" y2="902.86" stroke="#000" stroke-width="2.7" stroke-linecap="round"/>
<circle cx="1420.77" cy="873.32" r="2.9" fill="#fff"/>
<rect x="142.3" y="1207.2" width="601.5" height="413.8" fill="#fdfdfd"/>
<line x1="142.1" y1="1207.8" x2="142.1" y2="1617.4" stroke="#a0a0a0" stroke-width="1"/>
<line x1="142.6" y1="1212.4" x2="145.1" y2="1212.4" stroke="#b8b8b8" stroke-width="0.7"/>
<line x1="142.6" y1="1220.6" x2="145.1" y2="1220.6" stroke="#b8b8b8" stroke-width="0.7"/>
<line x1="142.6" y1="1228.8" x2="145.1" y2="1228.8" stroke="#b8b8b8" stroke-width="0.7"/>
<line x1="142.6" y1="1237" x2="145.1" y2="1237" stroke="#b8b8b8" stroke-width="0.7"/>
<line x1="142.6" y1="1245.2" x2="145.1" y2="1245.2" stroke="#b8b8b8" stroke-width="0.7"/>
<line x1="142.6" y1="1253.4" x2="146.8" y2="1253.4" stroke="#8a8a8a" stroke-width="1"/>
<line x1="142.6" y1="1261.6" x2="145.1" y2="1261.6" stroke="#b8b8b8" stroke-width="0.7"/>
<line x1="142.6" y1="1269.8" x2="145.1" y2="1269.8" stroke="#b8b8b8" stroke-width="0.7"/>
<line x1="142.6" y1="1278" x2="145.1" y2="1278" stroke="#b8b8b8" stroke-width="0.7"/>
<line x1="142.6" y1="1286.2" x2="145.1" y2="1286.2" stroke="#b8b8b8" stroke-width="0.7"/>
<line x1="142.6" y1="1294.4" x2="145.1" y2="1294.4" stroke="#b8b8b8" stroke-width="0.7"/>
<line x1="142.6" y1="1302.6" x2="145.1" y2="1302.6" stroke="#b8b8b8" stroke-width="0.7"/>
<line x1="142.6" y1="1310.8" x2="145.1" y2="1310.8" stroke="#b8b8b8" stroke-width="0.7"/>
<line x1="142.6" y1="1319" x2="145.1" y2="1319" stroke="#b8b8b8" stroke-width="0.7"/>
<line x1="142.6" y1="1327.2" x2="145.1" y2="1327.2" stroke="#b8b8b8" stroke-width="0.7"/>
<line x1="142.6" y1="1335.4" x2="146.8" y2="1335.4" stroke="#8a8a8a" stroke-width="1"/>
<line x1="142.6" y1="1343.6" x2="145.1" y2="1343.6" stroke="#b8b8b8" stroke-width="0.7"/>
<line x1="142.6" y1="1351.8" x2="145.1" y2="1351.8" stroke="#b8b8b8" stroke-width="0.7"/>
<line x1="142.6" y1="1360" x2="145.1" y2="1360" stroke="#b8b8b8" stroke-width="0.7"/>
<line x1="142.6" y1="1368.2" x2="145.1" y2="1368.2" stroke="#b8b8b8" stroke-width="0.7"/>
<line x1="142.6" y1="1376.4" x2="145.1" y2="1376.4" stroke="#b8b8b8" stroke-width="0.7"/>
<line x1="142.6" y1="1384.6" x2="145.1" y2="1384.6" stroke="#b8b8b8" stroke-width="0.7"/>
<line x1="142.6" y1="1392.8" x2="145.1" y2="1392.8" stroke="#b8b8b8" stroke-width="0.7"/>
<line x1="142.6" y1="1401" x2="145.1" y2="1401" stroke="#b8b8b8" stroke-width="0.7"/>
<line x1="142.6" y1="1409.2" x2="145.1" y2="1409.2" stroke="#b8b8b8" stroke-width="0.7"/>
<line x1="142.6" y1="1417.4" x2="146.8" y2="1417.4" stroke="#8a8a8a" stroke-width="1"/>
<line x1="142.6" y1="1425.6" x2="145.1" y2="1425.6" stroke="#b8b8b8" stroke-width="0.7"/>
<line x1="142.6" y1="1433.8" x2="145.1" y2="1433.8" stroke="#b8b8b8" stroke-width="0.7"/>
<line x1="142.6" y1="1442" x2="145.1" y2="1442" stroke="#b8b8b8" stroke-width="0.7"/>
<line x1="142.6" y1="1450.2" x2="145.1" y2="1450.2" stroke="#b8b8b8" stroke-width="0.7"/>
<line x1="142.6" y1="1458.4" x2="145.1" y2="1458.4" stroke="#b8b8b8" stroke-width="0.7"/>
<line x1="142.6" y1="1466.6" x2="145.1" y2="1466.6" stroke="#b8b8b8" stroke-width="0.7"/>
<line x1="142.6" y1="1474.8" x2="145.1" y2="1474.8" stroke="#b8b8b8" stroke-width="0.7"/>
<line x1="142.6" y1="1483" x2="145.1" y2="1483" stroke="#b8b8b8" stroke-width="0.7"/>
<line x1="142.6" y1="1491.2" x2="145.1" y2="1491.2" stroke="#b8b8b8" stroke-width="0.7"/>
<line x1="142.6" y1="1499.4" x2="146.8" y2="1499.4" stroke="#8a8a8a" stroke-width="1"/>
<line x1="142.6" y1="1507.6" x2="145.1" y2="1507.6" stroke="#b8b8b8" stroke-width="0.7"/>
<line x1="142.6" y1="1515.8" x2="145.1" y2="1515.8" stroke="#b8b8b8" stroke-width="0.7"/>
<line x1="142.6" y1="1524" x2="145.1" y2="1524" stroke="#b8b8b8" stroke-width="0.7"/>
<line x1="142.6" y1="1532.2" x2="145.1" y2="1532.2" stroke="#b8b8b8" stroke-width="0.7"/>
<line x1="142.6" y1="1540.4" x2="145.1" y2="1540.4" stroke="#b8b8b8" stroke-width="0.7"/>
<line x1="142.6" y1="1548.6" x2="145.1" y2="1548.6" stroke="#b8b8b8" stroke-width="0.7"/>
<line x1="142.6" y1="1556.8" x2="145.1" y2="1556.8" stroke="#b8b8b8" stroke-width="0.7"/>
<line x1="142.6" y1="1565" x2="145.1" y2="1565" stroke="#b8b8b8" stroke-width="0.7"/>
<line x1="142.6" y1="1573.2" x2="145.1" y2="1573.2" stroke="#b8b8b8" stroke-width="0.7"/>
<line x1="142.6" y1="1581.4" x2="146.8" y2="1581.4" stroke="#8a8a8a" stroke-width="1"/>
<line x1="142.6" y1="1589.6" x2="145.1" y2="1589.6" stroke="#b8b8b8" stroke-width="0.7"/>
<line x1="142.6" y1="1597.8" x2="145.1" y2="1597.8" stroke="#b8b8b8" stroke-width="0.7"/>
<line x1="142.6" y1="1606" x2="145.1" y2="1606" stroke="#b8b8b8" stroke-width="0.7"/>
<line x1="142.6" y1="1614.2" x2="145.1" y2="1614.2" stroke="#b8b8b8" stroke-width="0.7"/>
<line x1="146.4" y1="1622.2" x2="339" y2="1622.2" stroke="#000" stroke-width="2.5"/>
<line x1="312" y1="1621" x2="752.8" y2="1621" stroke="#000" stroke-width="2.5"/>
<text transform="translate(118.05,1253.5) scale(0.9850,1)" font-size="32" fill="#000" xml:space="preserve">2</text>
<text transform="translate(119.55,1334.5) scale(0.9400,1)" font-size="32" fill="#000" xml:space="preserve">1</text>
<text transform="translate(120.88,1428.2) scale(0.9400,1)" font-size="32" fill="#000" xml:space="preserve">0</text>
<text transform="translate(113.11,1514.8) scale(0.9400,1)" font-size="32" fill="#000" xml:space="preserve">-1</text>
<text transform="translate(111.74,1621.3) scale(0.9434,1)" font-size="32" fill="#000" xml:space="preserve">-2</text>
<text transform="translate(107.33,1130.7) scale(0.9200,1)" font-size="29.5" fill="#000" xml:space="preserve">E</text>
<text transform="translate(27.7,1476.69) rotate(-90) scale(0.9229,1)" font-size="33.5" fill="#000" xml:space="preserve"><tspan x="0" y="0" font-size="33.5">~ 1150 cm</tspan><tspan x="154.87" y="-8.21" font-size="19.43">-1</tspan></text>
<text transform="translate(65,1572.85) rotate(-90) scale(0.9243,1)" font-size="33.5" fill="#000" xml:space="preserve">C-O bound carbohydrates</text>
<text transform="translate(102.4,1462.85) rotate(-90) scale(0.9202,1)" font-size="33.5" fill="#000" xml:space="preserve">(glycogen)</text>
<text transform="translate(278.69,1145.8)" font-size="32.2" fill="#000" xml:space="preserve">NS</text>
<text transform="translate(563.92,1143.8) scale(0.9627,1)" font-size="32.2" fill="#000" xml:space="preserve">EB</text>
<line x1="311.4" y1="1196.3" x2="576.8" y2="1196.3" stroke="#000" stroke-width="2.8"/>
<text transform="translate(413.35,1182.16) scale(0.8600,1)" font-size="27.5" fill="#000" letter-spacing="3.74" stroke="#000" stroke-width="0.35" xml:space="preserve">***</text>
<line x1="297.44" y1="1321.42" x2="297.44" y2="1603.22" stroke="#888" stroke-width="0.5"/>
<path d="M297.44,1360.18C298.3,1363.68 298.91,1367.17 298.91,1370.66C298.91,1373.45 298.63,1376.25 298.49,1379.04C298.35,1381.83 298.07,1384.63 298.07,1387.42C298.07,1389.52 298.67,1391.61 299.12,1393.71C299.57,1395.8 300.09,1397.9 301,1399.99C301.92,1402.09 303.7,1404.18 306.03,1406.28C308.37,1408.37 312.58,1410.47 317.56,1412.56C322.53,1414.66 330.78,1416.75 338.72,1418.85C346.66,1420.94 356.87,1423.04 365.95,1425.13C375.03,1427.23 385.48,1429.32 393.19,1431.42C398.33,1432.82 404.32,1434.21 406.81,1435.61C408.68,1436.66 410.79,1437.7 410.79,1438.75C410.79,1439.8 409.73,1440.85 408.69,1441.89C406.63,1443.99 399.13,1446.08 393.19,1448.18C387.25,1450.27 379.26,1452.37 372.24,1454.47C365.22,1456.56 357.36,1458.66 351.08,1460.75C344.8,1462.85 338.88,1464.94 334.11,1467.04C329.34,1469.13 325.08,1471.23 321.75,1473.32C318.42,1475.42 315.35,1477.51 313.37,1479.61C311.38,1481.7 309.94,1483.8 308.76,1485.89C307.18,1488.69 306.17,1491.48 304.98,1494.27C303.5,1497.77 301.59,1501.26 300.79,1504.75C300,1508.24 299.42,1511.73 299.12,1515.22C298.81,1518.72 298.7,1522.21 298.49,1525.7C298.28,1529.19 298.08,1532.68 297.86,1536.18C297.73,1538.27 297.59,1540.37 297.44,1542.46L297.44,1542.46C297.3,1540.37 297.16,1538.27 297.02,1536.18C296.8,1532.68 296.6,1529.19 296.39,1525.7C296.19,1522.21 296.07,1518.72 295.77,1515.22C295.46,1511.73 294.89,1508.24 294.09,1504.75C293.29,1501.26 291.38,1497.77 289.9,1494.27C288.71,1491.48 287.7,1488.69 286.13,1485.89C284.95,1483.8 283.5,1481.7 281.52,1479.61C279.54,1477.51 276.47,1475.42 273.14,1473.32C269.81,1471.23 265.54,1469.13 260.78,1467.04C256.01,1464.94 250.08,1462.85 243.81,1460.75C237.53,1458.66 229.66,1456.56 222.65,1454.47C215.63,1452.37 207.63,1450.27 201.69,1448.18C195.75,1446.08 188.26,1443.99 186.19,1441.89C185.16,1440.85 184.09,1439.8 184.09,1438.75C184.09,1437.7 186.2,1436.66 188.08,1435.61C190.57,1434.21 196.55,1432.82 201.69,1431.42C209.4,1429.32 219.85,1427.23 228.93,1425.13C238.01,1423.04 248.23,1420.94 256.17,1418.85C264.11,1416.75 272.35,1414.66 277.33,1412.56C282.3,1410.47 286.52,1408.37 288.85,1406.28C291.19,1404.18 292.97,1402.09 293.88,1399.99C294.79,1397.9 295.32,1395.8 295.77,1393.71C296.22,1391.61 296.81,1389.52 296.81,1387.42C296.81,1384.63 296.53,1381.83 296.39,1379.04C296.25,1376.25 295.98,1373.45 295.98,1370.66C295.98,1367.17 296.58,1363.68 297.44,1360.18Z" fill="#78bbf7" stroke="#2c3844" stroke-width="0.5" stroke-linejoin="round"/>
<line x1="297.44" y1="1393.71" x2="297.44" y2="1489.66" stroke="#120606" stroke-width="0.7"/>
<line x1="297.44" y1="1432.68" x2="297.44" y2="1454.26" stroke="#000" stroke-width="2.5" stroke-linecap="round"/>
<circle cx="297.44" cy="1442.31" r="1.7" fill="#fff"/>
<line x1="580.58" y1="1213.52" x2="580.58" y2="1617.89" stroke="#888" stroke-width="0.5"/>
<path d="M580.58,1232.38C580.79,1239.36 581.18,1246.35 581.63,1253.33C582.08,1260.31 582.69,1267.3 583.52,1274.28C583.93,1277.77 584.57,1281.27 585.19,1284.76C585.82,1288.25 586.43,1291.74 587.29,1295.23C588.15,1298.73 589.49,1302.22 590.64,1305.71C591.79,1309.2 593.05,1312.69 594.2,1316.19C595.35,1319.68 596.55,1323.17 597.56,1326.66C598.56,1330.15 599.64,1333.64 600.28,1337.14C600.91,1340.63 601.39,1344.12 601.75,1347.61C602.1,1351.1 602.3,1354.6 602.58,1358.09C602.86,1361.58 603.07,1365.07 603.42,1368.56C603.78,1372.06 604.37,1375.55 604.89,1379.04C605.41,1382.53 605.89,1386.02 606.56,1389.52C607.24,1393.01 608.05,1396.5 609.08,1399.99C610.11,1403.48 611.93,1406.98 613.06,1410.47C614.19,1413.96 615.4,1417.45 615.99,1420.94C616.47,1423.74 617.04,1426.53 617.04,1429.32C617.04,1432.12 616.75,1434.91 616.41,1437.7C616.08,1440.5 614.93,1443.29 613.9,1446.08C613.12,1448.18 612.04,1450.27 610.96,1452.37C609.17,1455.86 606.95,1459.35 604.89,1462.85C602.83,1466.34 600.59,1469.83 598.6,1473.32C596.62,1476.81 594.68,1480.31 592.95,1483.8C591.21,1487.29 589.4,1490.78 588.13,1494.27C586.86,1497.77 585.71,1501.26 584.98,1504.75C584.26,1508.24 583.74,1511.73 583.31,1515.22C582.88,1518.72 582.57,1522.21 582.26,1525.7C581.95,1529.19 581.61,1532.68 581.42,1536.18C581.24,1539.67 581.14,1543.16 581,1546.65C580.86,1550.14 580.72,1553.64 580.58,1557.13L580.58,1557.13C580.45,1553.64 580.31,1550.14 580.17,1546.65C580.03,1543.16 579.93,1539.67 579.75,1536.18C579.56,1532.68 579.22,1529.19 578.91,1525.7C578.6,1522.21 578.29,1518.72 577.86,1515.22C577.43,1511.73 576.91,1508.24 576.19,1504.75C575.46,1501.26 574.31,1497.77 573.04,1494.27C571.77,1490.78 569.96,1487.29 568.22,1483.8C566.49,1480.31 564.55,1476.81 562.57,1473.32C560.58,1469.83 558.34,1466.34 556.28,1462.85C554.22,1459.35 552,1455.86 550.21,1452.37C549.13,1450.27 548.05,1448.18 547.27,1446.08C546.24,1443.29 545.09,1440.5 544.76,1437.7C544.42,1434.91 544.13,1432.12 544.13,1429.32C544.13,1426.53 544.7,1423.74 545.18,1420.94C545.77,1417.45 546.98,1413.96 548.11,1410.47C549.24,1406.98 551.06,1403.48 552.09,1399.99C553.12,1396.5 553.93,1393.01 554.6,1389.52C555.28,1386.02 555.76,1382.53 556.28,1379.04C556.8,1375.55 557.39,1372.06 557.75,1368.56C558.1,1365.07 558.31,1361.58 558.59,1358.09C558.87,1354.6 559.07,1351.1 559.42,1347.61C559.78,1344.12 560.25,1340.63 560.89,1337.14C561.53,1333.64 562.61,1330.15 563.61,1326.66C564.62,1323.17 565.82,1319.68 566.97,1316.19C568.12,1312.69 569.38,1309.2 570.53,1305.71C571.68,1302.22 573.02,1298.73 573.88,1295.23C574.74,1291.74 575.35,1288.25 575.98,1284.76C576.6,1281.27 577.24,1277.77 577.65,1274.28C578.48,1267.3 579.09,1260.31 579.54,1253.33C579.99,1246.35 580.38,1239.36 580.58,1232.38Z" fill="#cd4935" stroke="#5e241b" stroke-width="0.5" stroke-linejoin="round"/>
<line x1="580.58" y1="1232.38" x2="580.58" y2="1557.13" stroke="#120606" stroke-width="0.6"/>
<line x1="580.58" y1="1360.39" x2="580.58" y2="1440.64" stroke="#000" stroke-width="2.5" stroke-linecap="round"/>
<circle cx="580.58" cy="1412.56" r="2" fill="#fff"/>
<rect x="976.3" y="1204.5" width="614.6" height="418.5" fill="#fdfdfd"/>
<line x1="976.1" y1="1205.3" x2="976.1" y2="1624" stroke="#7a7a7a" stroke-width="1.7"/>
<line x1="976.95" y1="1213" x2="983.1" y2="1213" stroke="#4a4a4a" stroke-width="1.3"/>
<line x1="976.95" y1="1226.18" x2="980.6" y2="1226.18" stroke="#a8a8a8" stroke-width="0.7"/>
<line x1="976.95" y1="1239.36" x2="980.6" y2="1239.36" stroke="#a8a8a8" stroke-width="0.7"/>
<line x1="976.95" y1="1252.54" x2="980.6" y2="1252.54" stroke="#a8a8a8" stroke-width="0.7"/>
<line x1="976.95" y1="1265.72" x2="980.6" y2="1265.72" stroke="#a8a8a8" stroke-width="0.7"/>
<line x1="976.95" y1="1278.9" x2="980.6" y2="1278.9" stroke="#a8a8a8" stroke-width="0.7"/>
<line x1="976.95" y1="1292.08" x2="980.6" y2="1292.08" stroke="#a8a8a8" stroke-width="0.7"/>
<line x1="976.95" y1="1305.26" x2="980.6" y2="1305.26" stroke="#a8a8a8" stroke-width="0.7"/>
<line x1="976.95" y1="1318.44" x2="980.6" y2="1318.44" stroke="#a8a8a8" stroke-width="0.7"/>
<line x1="976.95" y1="1331.62" x2="980.6" y2="1331.62" stroke="#a8a8a8" stroke-width="0.7"/>
<line x1="976.95" y1="1344.8" x2="983.1" y2="1344.8" stroke="#4a4a4a" stroke-width="1.3"/>
<line x1="976.95" y1="1357.98" x2="980.6" y2="1357.98" stroke="#a8a8a8" stroke-width="0.7"/>
<line x1="976.95" y1="1371.16" x2="980.6" y2="1371.16" stroke="#a8a8a8" stroke-width="0.7"/>
<line x1="976.95" y1="1384.34" x2="980.6" y2="1384.34" stroke="#a8a8a8" stroke-width="0.7"/>
<line x1="976.95" y1="1397.52" x2="980.6" y2="1397.52" stroke="#a8a8a8" stroke-width="0.7"/>
<line x1="976.95" y1="1410.7" x2="980.6" y2="1410.7" stroke="#a8a8a8" stroke-width="0.7"/>
<line x1="976.95" y1="1423.88" x2="980.6" y2="1423.88" stroke="#a8a8a8" stroke-width="0.7"/>
<line x1="976.95" y1="1437.06" x2="980.6" y2="1437.06" stroke="#a8a8a8" stroke-width="0.7"/>
<line x1="976.95" y1="1450.24" x2="980.6" y2="1450.24" stroke="#a8a8a8" stroke-width="0.7"/>
<line x1="976.95" y1="1463.42" x2="980.6" y2="1463.42" stroke="#a8a8a8" stroke-width="0.7"/>
<line x1="976.95" y1="1476.6" x2="983.1" y2="1476.6" stroke="#4a4a4a" stroke-width="1.3"/>
<line x1="976.95" y1="1489.78" x2="980.6" y2="1489.78" stroke="#a8a8a8" stroke-width="0.7"/>
<line x1="976.95" y1="1502.96" x2="980.6" y2="1502.96" stroke="#a8a8a8" stroke-width="0.7"/>
<line x1="976.95" y1="1516.14" x2="980.6" y2="1516.14" stroke="#a8a8a8" stroke-width="0.7"/>
<line x1="976.95" y1="1529.32" x2="980.6" y2="1529.32" stroke="#a8a8a8" stroke-width="0.7"/>
<line x1="976.95" y1="1542.5" x2="980.6" y2="1542.5" stroke="#a8a8a8" stroke-width="0.7"/>
<line x1="976.95" y1="1555.68" x2="980.6" y2="1555.68" stroke="#a8a8a8" stroke-width="0.7"/>
<line x1="976.95" y1="1568.86" x2="980.6" y2="1568.86" stroke="#a8a8a8" stroke-width="0.7"/>
<line x1="976.95" y1="1582.04" x2="980.6" y2="1582.04" stroke="#a8a8a8" stroke-width="0.7"/>
<line x1="976.95" y1="1595.22" x2="980.6" y2="1595.22" stroke="#a8a8a8" stroke-width="0.7"/>
<line x1="976.95" y1="1608.4" x2="983.1" y2="1608.4" stroke="#4a4a4a" stroke-width="1.3"/>
<line x1="974.4" y1="1622.8" x2="1160" y2="1622.8" stroke="#000" stroke-width="2.7"/>
<line x1="1148" y1="1623.4" x2="1587.7" y2="1623.4" stroke="#000" stroke-width="2.7"/>
<text transform="translate(950.55,1219.4) scale(0.9400,1)" font-size="32" fill="#000" xml:space="preserve">1</text>
<text transform="translate(927.67,1353.1) scale(0.9590,1)" font-size="32" fill="#000" xml:space="preserve">0.5</text>
<text transform="translate(951.18,1489.9) scale(0.9400,1)" font-size="32" fill="#000" xml:space="preserve">0</text>
<text transform="translate(919.94,1621.6) scale(0.9423,1)" font-size="32" fill="#000" xml:space="preserve">-0.5</text>
<text transform="translate(935.93,1118.5) scale(0.9201,1)" font-size="29.5" fill="#000" xml:space="preserve">F</text>
<text transform="translate(910.1,1643.1) rotate(-90) scale(1.0237,1)" font-size="30.3" fill="#000" xml:space="preserve"><tspan x="0" y="0" font-size="30.3">~ 1740 cm</tspan><tspan x="142.33" y="-7.42" font-size="17.57">-1</tspan><tspan x="157.96" y="0" font-size="30.3"> (C=O) phospholipids</tspan></text>
<text transform="translate(1113.19,1181.3)" font-size="32.2" fill="#000" xml:space="preserve">NS</text>
<text transform="translate(1392.5,1185.3)" font-size="32.2" fill="#000" xml:space="preserve">EB</text>
<line x1="1135" y1="1252.9" x2="1399.3" y2="1252.9" stroke="#000" stroke-width="2.6"/>
<text transform="translate(1255.15,1250.16) scale(0.8600,1)" font-size="27.5" fill="#000" letter-spacing="3.51" stroke="#000" stroke-width="0.35" xml:space="preserve">***</text>
<line x1="1136.6" y1="1283.71" x2="1136.6" y2="1622" stroke="#5c5c5c" stroke-width="0.7"/>
<path d="M1136.6,1309.9C1137.01,1315.49 1137.43,1321.07 1137.86,1326.66C1138.13,1330.15 1138.3,1333.64 1138.7,1337.14C1139.1,1340.63 1139.91,1344.12 1140.79,1347.61C1141.67,1351.1 1142.76,1354.6 1144.36,1358.09C1145.95,1361.58 1148.6,1365.07 1151.69,1368.56C1154.78,1372.06 1159.02,1375.55 1164.26,1379.04C1169.5,1382.53 1177.9,1386.02 1185.21,1389.52C1192.53,1393.01 1200.94,1396.5 1208.26,1399.99C1215.57,1403.48 1223.46,1406.98 1229.21,1410.47C1234.96,1413.96 1241.54,1417.45 1243.88,1420.94C1246.21,1424.43 1247.74,1427.93 1248.49,1431.42C1249.23,1434.91 1249.95,1438.4 1249.95,1441.89C1249.95,1443.99 1249.87,1446.08 1249.74,1448.18C1249.57,1450.97 1247.21,1453.77 1244.92,1456.56C1243.21,1458.66 1239.49,1460.75 1236.54,1462.85C1231.64,1466.34 1225.49,1469.83 1220.83,1473.32C1216.17,1476.81 1212.62,1480.31 1208.26,1483.8C1203.9,1487.29 1199.21,1490.78 1194.64,1494.27C1190.07,1497.77 1185.35,1501.26 1180.81,1504.75C1176.27,1508.24 1171.09,1511.73 1167.4,1515.22C1163.71,1518.72 1160.49,1522.21 1157.97,1525.7C1155.46,1529.19 1153.37,1532.68 1151.69,1536.18C1150.01,1539.67 1148.7,1543.16 1147.5,1546.65C1146.3,1550.14 1145.19,1553.64 1144.36,1557.13C1143.52,1560.62 1142.84,1564.11 1142.26,1567.6C1141.69,1571.1 1141.25,1574.59 1140.79,1578.08C1140.34,1581.57 1139.96,1585.06 1139.54,1588.56C1139.12,1592.05 1138.62,1595.54 1138.28,1599.03C1137.95,1602.52 1137.63,1606.01 1137.44,1609.51C1137.26,1613 1137.3,1616.49 1137.02,1619.98C1136.97,1620.68 1136.76,1621.38 1136.6,1622.08L1136.6,1622.08C1136.45,1621.38 1136.24,1620.68 1136.19,1619.98C1135.91,1616.49 1135.95,1613 1135.77,1609.51C1135.58,1606.01 1135.26,1602.52 1134.93,1599.03C1134.59,1595.54 1134.09,1592.05 1133.67,1588.56C1133.25,1585.06 1132.87,1581.57 1132.41,1578.08C1131.96,1574.59 1131.52,1571.1 1130.95,1567.6C1130.37,1564.11 1129.69,1560.62 1128.85,1557.13C1128.01,1553.64 1126.91,1550.14 1125.71,1546.65C1124.51,1543.16 1123.2,1539.67 1121.52,1536.18C1119.84,1532.68 1117.75,1529.19 1115.23,1525.7C1112.72,1522.21 1109.5,1518.72 1105.81,1515.22C1102.11,1511.73 1096.93,1508.24 1092.4,1504.75C1087.86,1501.26 1083.14,1497.77 1078.57,1494.27C1073.99,1490.78 1069.31,1487.29 1064.95,1483.8C1060.59,1480.31 1057.03,1476.81 1052.38,1473.32C1047.72,1469.83 1041.57,1466.34 1036.67,1462.85C1033.72,1460.75 1030,1458.66 1028.28,1456.56C1026,1453.77 1023.63,1450.97 1023.47,1448.18C1023.34,1446.08 1023.26,1443.99 1023.26,1441.89C1023.26,1438.4 1023.98,1434.91 1024.72,1431.42C1025.46,1427.93 1026.99,1424.43 1029.33,1420.94C1031.67,1417.45 1038.25,1413.96 1044,1410.47C1049.75,1406.98 1057.63,1403.48 1064.95,1399.99C1072.27,1396.5 1080.68,1393.01 1088,1389.52C1095.31,1386.02 1103.71,1382.53 1108.95,1379.04C1114.19,1375.55 1118.43,1372.06 1121.52,1368.56C1124.61,1365.07 1127.25,1361.58 1128.85,1358.09C1130.45,1354.6 1131.53,1351.1 1132.41,1347.61C1133.29,1344.12 1134.11,1340.63 1134.51,1337.14C1134.91,1333.64 1135.08,1330.15 1135.35,1326.66C1135.78,1321.07 1136.2,1315.49 1136.6,1309.9Z" fill="#78bbf7" stroke="#2c3844" stroke-width="0.5" stroke-linejoin="round"/>
<line x1="1136.6" y1="1338.6" x2="1136.6" y2="1555.66" stroke="#120606" stroke-width="1.1"/>
<line x1="1136.6" y1="1420.94" x2="1136.6" y2="1475" stroke="#000" stroke-width="2.7" stroke-linecap="round"/>
<circle cx="1136.6" cy="1447.55" r="2.9" fill="#fff"/>
<line x1="1419.72" y1="1205.14" x2="1419.72" y2="1615.37" stroke="#5c5c5c" stroke-width="0.7"/>
<path d="M1419.72,1221.9C1419.79,1235.87 1420.06,1249.84 1420.35,1263.81C1420.49,1270.79 1420.67,1277.77 1420.98,1284.76C1421.28,1291.74 1421.97,1298.73 1422.65,1305.71C1422.99,1309.2 1423.53,1312.69 1423.91,1316.19C1424.29,1319.68 1424.61,1323.17 1424.96,1326.66C1425.31,1330.15 1425.51,1333.64 1426,1337.14C1426.5,1340.63 1427.45,1344.12 1428.52,1347.61C1429.58,1351.1 1430.92,1354.6 1432.92,1358.09C1434.92,1361.58 1439.04,1365.07 1442.35,1368.56C1445.65,1372.06 1449.48,1375.55 1452.82,1379.04C1456.17,1382.53 1459.87,1386.02 1462.46,1389.52C1465.05,1393.01 1467.02,1396.5 1468.95,1399.99C1470.89,1403.48 1472.35,1406.98 1474.19,1410.47C1476.04,1413.96 1477.63,1417.45 1480.06,1420.94C1482.49,1424.43 1486.45,1427.93 1489.7,1431.42C1492.94,1434.91 1496.41,1438.4 1499.54,1441.89C1502.68,1445.39 1505.74,1448.88 1508.55,1452.37C1511.37,1455.86 1514.26,1459.35 1516.51,1462.85C1518.77,1466.34 1521.4,1469.83 1522.38,1473.32C1522.87,1475.07 1523.43,1476.81 1523.43,1478.56C1523.43,1480.31 1522.92,1482.05 1522.38,1483.8C1521.3,1487.29 1516.7,1490.78 1512.32,1494.27C1507.95,1497.77 1499.75,1501.26 1493.47,1504.75C1487.18,1508.24 1480.9,1511.73 1474.61,1515.22C1468.33,1518.72 1461.47,1522.21 1455.76,1525.7C1450.04,1529.19 1444.23,1532.68 1440.04,1536.18C1435.85,1539.67 1431.83,1543.16 1429.57,1546.65C1427.3,1550.14 1425.59,1553.64 1424.54,1557.13C1423.48,1560.62 1422.77,1564.11 1422.23,1567.6C1421.69,1571.1 1421.16,1574.59 1420.98,1578.08C1420.62,1585.06 1420.58,1592.05 1420.35,1599.03C1420.16,1604.48 1419.95,1609.93 1419.72,1615.37L1419.72,1615.37C1419.49,1609.93 1419.27,1604.48 1419.09,1599.03C1418.85,1592.05 1418.82,1585.06 1418.46,1578.08C1418.28,1574.59 1417.75,1571.1 1417.2,1567.6C1416.66,1564.11 1415.95,1560.62 1414.9,1557.13C1413.85,1553.64 1412.14,1550.14 1409.87,1546.65C1407.61,1543.16 1403.59,1539.67 1399.4,1536.18C1395.21,1532.68 1389.4,1529.19 1383.68,1525.7C1377.97,1522.21 1371.11,1518.72 1364.83,1515.22C1358.54,1511.73 1352.25,1508.24 1345.97,1504.75C1339.68,1501.26 1331.49,1497.77 1327.11,1494.27C1322.74,1490.78 1318.13,1487.29 1317.06,1483.8C1316.52,1482.05 1316.01,1480.31 1316.01,1478.56C1316.01,1476.81 1316.57,1475.07 1317.06,1473.32C1318.03,1469.83 1320.67,1466.34 1322.92,1462.85C1325.17,1459.35 1328.07,1455.86 1330.88,1452.37C1333.7,1448.88 1336.76,1445.39 1339.89,1441.89C1343.03,1438.4 1346.49,1434.91 1349.74,1431.42C1352.99,1427.93 1356.95,1424.43 1359.38,1420.94C1361.81,1417.45 1363.4,1413.96 1365.24,1410.47C1367.09,1406.98 1368.55,1403.48 1370.48,1399.99C1372.42,1396.5 1374.39,1393.01 1376.98,1389.52C1379.56,1386.02 1383.27,1382.53 1386.62,1379.04C1389.96,1375.55 1393.78,1372.06 1397.09,1368.56C1400.4,1365.07 1404.52,1361.58 1406.52,1358.09C1408.52,1354.6 1409.85,1351.1 1410.92,1347.61C1411.99,1344.12 1412.94,1340.63 1413.43,1337.14C1413.93,1333.64 1414.13,1330.15 1414.48,1326.66C1414.83,1323.17 1415.15,1319.68 1415.53,1316.19C1415.91,1312.69 1416.44,1309.2 1416.79,1305.71C1417.47,1298.73 1418.16,1291.74 1418.46,1284.76C1418.77,1277.77 1418.94,1270.79 1419.09,1263.81C1419.38,1249.84 1419.65,1235.87 1419.72,1221.9Z" fill="#cd4935" stroke="#5e241b" stroke-width="0.5" stroke-linejoin="round"/>
<line x1="1419.72" y1="1332.32" x2="1419.72" y2="1561.32" stroke="#120606" stroke-width="1.1"/>
<line x1="1419.72" y1="1426.6" x2="1419.72" y2="1487.57" stroke="#000" stroke-width="2.7" stroke-linecap="round"/>
<circle cx="1419.72" cy="1463.89" r="2.9" fill="#fff"/>
<rect x="182.3" y="1863" width="607.7" height="421.5" fill="#fdfdfd"/>
<line x1="182.1" y1="1862.6" x2="182.1" y2="2285.5" stroke="#808080" stroke-width="1.8"/>
<line x1="183" y1="1866.3" x2="186.1" y2="1866.3" stroke="#b0b0b0" stroke-width="0.7"/>
<line x1="183" y1="1876.74" x2="186.1" y2="1876.74" stroke="#b0b0b0" stroke-width="0.7"/>
<line x1="183" y1="1887.18" x2="186.1" y2="1887.18" stroke="#b0b0b0" stroke-width="0.7"/>
<line x1="183" y1="1897.62" x2="186.1" y2="1897.62" stroke="#b0b0b0" stroke-width="0.7"/>
<line x1="183" y1="1908.06" x2="186.1" y2="1908.06" stroke="#b0b0b0" stroke-width="0.7"/>
<line x1="183" y1="1918.5" x2="188.6" y2="1918.5" stroke="#4a4a4a" stroke-width="1.3"/>
<line x1="183" y1="1928.94" x2="186.1" y2="1928.94" stroke="#b0b0b0" stroke-width="0.7"/>
<line x1="183" y1="1939.38" x2="186.1" y2="1939.38" stroke="#b0b0b0" stroke-width="0.7"/>
<line x1="183" y1="1949.82" x2="186.1" y2="1949.82" stroke="#b0b0b0" stroke-width="0.7"/>
<line x1="183" y1="1960.26" x2="186.1" y2="1960.26" stroke="#b0b0b0" stroke-width="0.7"/>
<line x1="183" y1="1970.7" x2="186.1" y2="1970.7" stroke="#b0b0b0" stroke-width="0.7"/>
<line x1="183" y1="1981.14" x2="186.1" y2="1981.14" stroke="#b0b0b0" stroke-width="0.7"/>
<line x1="183" y1="1991.58" x2="186.1" y2="1991.58" stroke="#b0b0b0" stroke-width="0.7"/>
<line x1="183" y1="2002.02" x2="186.1" y2="2002.02" stroke="#b0b0b0" stroke-width="0.7"/>
<line x1="183" y1="2012.46" x2="186.1" y2="2012.46" stroke="#b0b0b0" stroke-width="0.7"/>
<line x1="183" y1="2022.9" x2="188.6" y2="2022.9" stroke="#4a4a4a" stroke-width="1.3"/>
<line x1="183" y1="2033.34" x2="186.1" y2="2033.34" stroke="#b0b0b0" stroke-width="0.7"/>
<line x1="183" y1="2043.78" x2="186.1" y2="2043.78" stroke="#b0b0b0" stroke-width="0.7"/>
<line x1="183" y1="2054.22" x2="186.1" y2="2054.22" stroke="#b0b0b0" stroke-width="0.7"/>
<line x1="183" y1="2064.66" x2="186.1" y2="2064.66" stroke="#b0b0b0" stroke-width="0.7"/>
<line x1="183" y1="2075.1" x2="186.1" y2="2075.1" stroke="#b0b0b0" stroke-width="0.7"/>
<line x1="183" y1="2085.54" x2="186.1" y2="2085.54" stroke="#b0b0b0" stroke-width="0.7"/>
<line x1="183" y1="2095.98" x2="186.1" y2="2095.98" stroke="#b0b0b0" stroke-width="0.7"/>
<line x1="183" y1="2106.42" x2="186.1" y2="2106.42" stroke="#b0b0b0" stroke-width="0.7"/>
<line x1="183" y1="2116.86" x2="186.1" y2="2116.86" stroke="#b0b0b0" stroke-width="0.7"/>
<line x1="183" y1="2127.3" x2="188.6" y2="2127.3" stroke="#4a4a4a" stroke-width="1.3"/>
<line x1="183" y1="2137.74" x2="186.1" y2="2137.74" stroke="#b0b0b0" stroke-width="0.7"/>
<line x1="183" y1="2148.18" x2="186.1" y2="2148.18" stroke="#b0b0b0" stroke-width="0.7"/>
<line x1="183" y1="2158.62" x2="186.1" y2="2158.62" stroke="#b0b0b0" stroke-width="0.7"/>
<line x1="183" y1="2169.06" x2="186.1" y2="2169.06" stroke="#b0b0b0" stroke-width="0.7"/>
<line x1="183" y1="2179.5" x2="186.1" y2="2179.5" stroke="#b0b0b0" stroke-width="0.7"/>
<line x1="183" y1="2189.94" x2="186.1" y2="2189.94" stroke="#b0b0b0" stroke-width="0.7"/>
<line x1="183" y1="2200.38" x2="186.1" y2="2200.38" stroke="#b0b0b0" stroke-width="0.7"/>
<line x1="183" y1="2210.82" x2="186.1" y2="2210.82" stroke="#b0b0b0" stroke-width="0.7"/>
<line x1="183" y1="2221.26" x2="186.1" y2="2221.26" stroke="#b0b0b0" stroke-width="0.7"/>
<line x1="183" y1="2231.7" x2="188.6" y2="2231.7" stroke="#4a4a4a" stroke-width="1.3"/>
<line x1="183" y1="2242.14" x2="186.1" y2="2242.14" stroke="#b0b0b0" stroke-width="0.7"/>
<line x1="183" y1="2252.58" x2="186.1" y2="2252.58" stroke="#b0b0b0" stroke-width="0.7"/>
<line x1="183" y1="2263.02" x2="186.1" y2="2263.02" stroke="#b0b0b0" stroke-width="0.7"/>
<line x1="183" y1="2273.46" x2="186.1" y2="2273.46" stroke="#b0b0b0" stroke-width="0.7"/>
<line x1="180.8" y1="2284.4" x2="780" y2="2284.4" stroke="#000" stroke-width="2.7"/>
<text transform="translate(161.86,1931.5) scale(0.9610,1)" font-size="32" fill="#000" xml:space="preserve">6</text>
<text transform="translate(161.9,2033.3) scale(0.9400,1)" font-size="32" fill="#000" xml:space="preserve">4</text>
<text transform="translate(162.79,2246) scale(0.9440,1)" font-size="32" fill="#000" xml:space="preserve">0</text>
<text transform="translate(104.74,1790) scale(0.9212,1)" font-size="29.5" fill="#000" xml:space="preserve">G</text>
<text transform="translate(103.3,2233) rotate(-90) scale(0.9750,1)" font-size="31.8" fill="#000" xml:space="preserve"><tspan x="0" y="0" font-size="31.8">~ 2850 cm</tspan><tspan x="149.38" y="-7.79" font-size="18.44">-1</tspan><tspan x="165.78" y="0" font-size="31.8"> + ~ 2920 cm</tspan><tspan x="351.39" y="-7.79" font-size="18.44">-1</tspan></text>
<text transform="translate(140,2261.37) rotate(-90) scale(0.9796,1)" font-size="31.8" fill="#000" xml:space="preserve"><tspan x="0" y="0" font-size="31.8">(</tspan><tspan x="10.59" y="0" font-size="33.39" font-family="Liberation Serif,serif">υ</tspan><tspan x="27.12" y="0" font-size="31.8">as CH2 + sCH2)</tspan></text>
<text transform="translate(140,1988.16) rotate(-90) scale(0.9675,1)" font-size="31.8" fill="#000" xml:space="preserve">Lipid order</text>
<text transform="translate(282.73,1828) scale(0.9958,1)" font-size="32.2" fill="#000" xml:space="preserve">NS</text>
<text transform="translate(589.33,1828.5) scale(0.9576,1)" font-size="32.2" fill="#000" xml:space="preserve">EB</text>
<line x1="350.5" y1="1863" x2="603.4" y2="1863" stroke="#000" stroke-width="3"/>
<text transform="translate(460.65,1853.06) scale(0.8600,1)" font-size="27.5" fill="#000" letter-spacing="3.69" stroke="#000" stroke-width="0.35" xml:space="preserve">***</text>
<line x1="302.26" y1="1881.19" x2="302.26" y2="2284" stroke="#5c5c5c" stroke-width="0.7"/>
<path d="M302.26,1881.19C302.43,1882.93 302.84,1884.68 303.31,1886.43C303.88,1888.52 304.58,1890.62 306.03,1892.71C307.48,1894.81 312.32,1896.9 316.93,1899C321.53,1901.09 329.01,1903.19 335.78,1905.28C342.55,1907.38 351.44,1909.47 357.78,1911.57C364.12,1913.66 371.21,1915.76 374.54,1917.85C377.88,1919.95 380.85,1922.04 381.67,1924.14C382.35,1925.88 382.92,1927.63 382.92,1929.38C382.92,1931.12 382.31,1932.87 381.67,1934.61C380.9,1936.71 378.27,1938.8 376.43,1940.9C374.58,1942.99 372.45,1945.09 370.56,1947.19C367.43,1950.68 364.56,1954.17 361.55,1957.66C358.55,1961.15 355.44,1964.64 352.54,1968.14C349.65,1971.63 346.56,1975.12 344.16,1978.61C341.77,1982.1 339.34,1985.6 337.88,1989.09C336.42,1992.58 334.77,1996.07 334.53,1999.56C334.28,2003.06 334.2,2006.55 334.11,2010.04C334.01,2013.53 334.02,2017.02 333.9,2020.52C333.78,2024.01 333.01,2027.5 332.43,2030.99C331.86,2034.48 331.17,2037.98 330.34,2041.47C329.5,2044.96 328.34,2048.45 327.19,2051.94C326.05,2055.43 324.64,2058.93 323.42,2062.42C322.2,2065.91 321.05,2069.4 319.86,2072.89C318.67,2076.39 317.45,2079.88 316.3,2083.37C315.15,2086.86 314.1,2090.35 312.95,2093.85C311.8,2097.34 310.26,2100.83 309.38,2104.32C308.51,2107.81 307.81,2111.31 307.29,2114.8C306.77,2118.29 306.45,2121.78 306.03,2125.27C305.61,2128.77 305.11,2132.26 304.78,2135.75C304.44,2139.24 304.18,2142.73 303.94,2146.22C303.7,2149.72 303.41,2153.21 303.31,2156.7C303.2,2160.19 303.17,2163.68 303.1,2167.18C302.96,2174.16 302.87,2181.14 302.68,2188.13C302.58,2191.62 302.42,2195.11 302.26,2198.6L302.26,2198.6C302.1,2195.11 301.94,2191.62 301.84,2188.13C301.65,2181.14 301.56,2174.16 301.42,2167.18C301.35,2163.68 301.32,2160.19 301.21,2156.7C301.11,2153.21 300.82,2149.72 300.58,2146.22C300.35,2142.73 300.08,2139.24 299.75,2135.75C299.41,2132.26 298.91,2128.77 298.49,2125.27C298.07,2121.78 297.76,2118.29 297.23,2114.8C296.71,2111.31 296.02,2107.81 295.14,2104.32C294.26,2100.83 292.73,2097.34 291.58,2093.85C290.42,2090.35 289.37,2086.86 288.22,2083.37C287.07,2079.88 285.85,2076.39 284.66,2072.89C283.47,2069.4 282.32,2065.91 281.1,2062.42C279.88,2058.93 278.47,2055.43 277.33,2051.94C276.19,2048.45 275.02,2044.96 274.19,2041.47C273.35,2037.98 272.67,2034.48 272.09,2030.99C271.52,2027.5 270.75,2024.01 270.62,2020.52C270.5,2017.02 270.51,2013.53 270.41,2010.04C270.32,2006.55 270.24,2003.06 270,1999.56C269.75,1996.07 268.1,1992.58 266.64,1989.09C265.19,1985.6 262.75,1982.1 260.36,1978.61C257.96,1975.12 254.87,1971.63 251.98,1968.14C249.08,1964.64 245.97,1961.15 242.97,1957.66C239.97,1954.17 237.1,1950.68 233.96,1947.19C232.08,1945.09 229.94,1942.99 228.09,1940.9C226.25,1938.8 223.62,1936.71 222.85,1934.61C222.21,1932.87 221.6,1931.12 221.6,1929.38C221.6,1927.63 222.18,1925.88 222.85,1924.14C223.67,1922.04 226.65,1919.95 229.98,1917.85C233.31,1915.76 240.4,1913.66 246.74,1911.57C253.08,1909.47 261.97,1907.38 268.74,1905.28C275.51,1903.19 282.99,1901.09 287.59,1899C292.2,1896.9 297.04,1894.81 298.49,1892.71C299.94,1890.62 300.65,1888.52 301.21,1886.43C301.69,1884.68 302.1,1882.93 302.26,1881.19Z" fill="#78bbf7" stroke="#2c3844" stroke-width="0.5" stroke-linejoin="round"/>
<line x1="302.26" y1="1904.23" x2="302.26" y2="2146.22" stroke="#120606" stroke-width="1.1"/>
<line x1="302.26" y1="1933.57" x2="302.26" y2="2018" stroke="#000" stroke-width="2.7" stroke-linecap="round"/>
<circle cx="302.26" cy="1963.95" r="2.9" fill="#fff"/>
<line x1="609.38" y1="1883.91" x2="609.38" y2="2284" stroke="#5c5c5c" stroke-width="0.7"/>
<path d="M609.38,1883.91C609.38,1886.15 609.9,1888.38 610.43,1890.62C610.93,1892.71 611.98,1894.81 613.57,1896.9C614.64,1898.3 616.68,1899.69 619.44,1901.09C622.2,1902.49 628.25,1903.89 633.48,1905.28C641.33,1907.38 652,1909.47 660.72,1911.57C669.43,1913.66 678.24,1915.76 685.86,1917.85C693.48,1919.95 700.82,1922.04 706.81,1924.14C712.8,1926.23 718.88,1928.33 722.52,1930.42C726.17,1932.52 729.54,1934.61 730.9,1936.71C731.81,1938.11 732.79,1939.5 732.79,1940.9C732.79,1942.3 732.29,1943.69 731.74,1945.09C730.91,1947.19 727.51,1949.28 724.41,1951.38C721.3,1953.47 716.55,1955.57 711.63,1957.66C703.42,1961.15 690.68,1964.64 681.46,1968.14C672.23,1971.63 662.05,1975.12 655.9,1978.61C649.74,1982.1 644.98,1985.6 641.44,1989.09C637.9,1992.58 635.67,1996.07 633.06,1999.56C630.45,2003.06 627.98,2006.55 625.73,2010.04C623.47,2013.53 620.9,2017.02 619.44,2020.52C617.98,2024.01 616.62,2027.5 616.09,2030.99C615.56,2034.48 615.35,2037.98 615.04,2041.47C614.73,2044.96 614.51,2048.45 614.2,2051.94C613.89,2055.43 613.51,2058.93 613.16,2062.42C612.81,2065.91 612.49,2069.4 612.11,2072.89C611.73,2076.39 611.13,2079.88 610.85,2083.37C610.57,2086.86 610.38,2090.35 610.22,2093.85C610.07,2097.34 609.89,2100.83 609.85,2104.32C609.76,2111.31 609.74,2118.29 609.7,2125.27C609.66,2132.26 609.62,2139.24 609.59,2146.22C609.57,2153.21 609.53,2160.19 609.53,2167.18C609.53,2174.16 610.03,2181.14 610.43,2188.13C610.63,2191.62 611.11,2195.11 611.27,2198.6C611.37,2200.7 611.48,2202.79 611.48,2204.89C611.48,2207.68 611.09,2210.48 610.85,2213.27C610.61,2216.06 610.17,2218.86 610.01,2221.65C609.86,2224.44 609.7,2227.24 609.7,2230.03C609.7,2237.01 609.75,2244 609.8,2250.98C609.86,2257.97 610.22,2264.95 610.22,2271.93C610.22,2275.78 610.22,2279.62 610.22,2283.46C610.22,2283.95 609.7,2284.44 609.38,2284.92L609.38,2284.92C609.07,2284.44 608.55,2283.95 608.55,2283.46C608.55,2279.62 608.55,2275.78 608.55,2271.93C608.55,2264.95 608.91,2257.97 608.97,2250.98C609.02,2244 609.07,2237.01 609.07,2230.03C609.07,2227.24 608.91,2224.44 608.76,2221.65C608.6,2218.86 608.16,2216.06 607.92,2213.27C607.68,2210.48 607.29,2207.68 607.29,2204.89C607.29,2202.79 607.4,2200.7 607.5,2198.6C607.66,2195.11 608.13,2191.62 608.34,2188.13C608.74,2181.14 609.24,2174.16 609.24,2167.18C609.24,2160.19 609.2,2153.21 609.18,2146.22C609.15,2139.24 609.11,2132.26 609.07,2125.27C609.03,2118.29 609.01,2111.31 608.92,2104.32C608.88,2100.83 608.7,2097.34 608.55,2093.85C608.39,2090.35 608.2,2086.86 607.92,2083.37C607.64,2079.88 607.04,2076.39 606.66,2072.89C606.28,2069.4 605.96,2065.91 605.61,2062.42C605.26,2058.93 604.88,2055.43 604.57,2051.94C604.26,2048.45 604.04,2044.96 603.73,2041.47C603.42,2037.98 603.21,2034.48 602.68,2030.99C602.15,2027.5 600.79,2024.01 599.33,2020.52C597.87,2017.02 595.3,2013.53 593.04,2010.04C590.79,2006.55 588.32,2003.06 585.71,1999.56C583.1,1996.07 580.87,1992.58 577.33,1989.09C573.79,1985.6 569.03,1982.1 562.87,1978.61C556.72,1975.12 546.54,1971.63 537.31,1968.14C528.09,1964.64 515.35,1961.15 507.14,1957.66C502.22,1955.57 497.47,1953.47 494.36,1951.38C491.25,1949.28 487.85,1947.19 487.03,1945.09C486.48,1943.69 485.98,1942.3 485.98,1940.9C485.98,1939.5 486.96,1938.11 487.87,1936.71C489.23,1934.61 492.6,1932.52 496.25,1930.42C499.89,1928.33 505.97,1926.23 511.96,1924.14C517.95,1922.04 525.29,1919.95 532.91,1917.85C540.53,1915.76 549.34,1913.66 558.05,1911.57C566.77,1909.47 577.44,1907.38 585.29,1905.28C590.52,1903.89 596.57,1902.49 599.33,1901.09C602.09,1899.69 604.13,1898.3 605.19,1896.9C606.79,1894.81 607.84,1892.71 608.34,1890.62C608.87,1888.38 609.38,1886.15 609.38,1883.91Z" fill="#cd4935" stroke="#5e241b" stroke-width="0.5" stroke-linejoin="round"/>
<line x1="609.38" y1="1902.56" x2="609.38" y2="2019.89" stroke="#120606" stroke-width="1.1"/>
<line x1="609.38" y1="1933.57" x2="609.38" y2="1967.3" stroke="#000" stroke-width="2.7" stroke-linecap="round"/>
<circle cx="609.38" cy="1947.81" r="2.9" fill="#fff"/>
<rect x="964" y="1826.7" width="608.4" height="454.8" fill="#fdfdfd"/>
<line x1="963.7" y1="1826.6" x2="963.7" y2="2282.5" stroke="#666" stroke-width="1.5"/>
<line x1="964.45" y1="1837.2" x2="967.2" y2="1837.2" stroke="#b5b5b5" stroke-width="0.7"/>
<line x1="964.45" y1="1849.9" x2="967.2" y2="1849.9" stroke="#b5b5b5" stroke-width="0.7"/>
<line x1="964.45" y1="1862.6" x2="967.2" y2="1862.6" stroke="#b5b5b5" stroke-width="0.7"/>
<line x1="964.45" y1="1875.3" x2="967.2" y2="1875.3" stroke="#b5b5b5" stroke-width="0.7"/>
<line x1="964.45" y1="1888" x2="967.2" y2="1888" stroke="#b5b5b5" stroke-width="0.7"/>
<line x1="964.45" y1="1900.7" x2="969.9" y2="1900.7" stroke="#4a4a4a" stroke-width="1.2"/>
<line x1="964.45" y1="1913.4" x2="967.2" y2="1913.4" stroke="#b5b5b5" stroke-width="0.7"/>
<line x1="964.45" y1="1926.1" x2="967.2" y2="1926.1" stroke="#b5b5b5" stroke-width="0.7"/>
<line x1="964.45" y1="1938.8" x2="967.2" y2="1938.8" stroke="#b5b5b5" stroke-width="0.7"/>
<line x1="964.45" y1="1951.5" x2="967.2" y2="1951.5" stroke="#b5b5b5" stroke-width="0.7"/>
<line x1="964.45" y1="1964.2" x2="967.2" y2="1964.2" stroke="#b5b5b5" stroke-width="0.7"/>
<line x1="964.45" y1="1976.9" x2="967.2" y2="1976.9" stroke="#b5b5b5" stroke-width="0.7"/>
<line x1="964.45" y1="1989.6" x2="967.2" y2="1989.6" stroke="#b5b5b5" stroke-width="0.7"/>
<line x1="964.45" y1="2002.3" x2="967.2" y2="2002.3" stroke="#b5b5b5" stroke-width="0.7"/>
<line x1="964.45" y1="2015" x2="967.2" y2="2015" stroke="#b5b5b5" stroke-width="0.7"/>
<line x1="964.45" y1="2027.7" x2="969.9" y2="2027.7" stroke="#4a4a4a" stroke-width="1.2"/>
<line x1="964.45" y1="2040.4" x2="967.2" y2="2040.4" stroke="#b5b5b5" stroke-width="0.7"/>
<line x1="964.45" y1="2053.1" x2="967.2" y2="2053.1" stroke="#b5b5b5" stroke-width="0.7"/>
<line x1="964.45" y1="2065.8" x2="967.2" y2="2065.8" stroke="#b5b5b5" stroke-width="0.7"/>
<line x1="964.45" y1="2078.5" x2="967.2" y2="2078.5" stroke="#b5b5b5" stroke-width="0.7"/>
<line x1="964.45" y1="2091.2" x2="967.2" y2="2091.2" stroke="#b5b5b5" stroke-width="0.7"/>
<line x1="964.45" y1="2103.9" x2="967.2" y2="2103.9" stroke="#b5b5b5" stroke-width="0.7"/>
<line x1="964.45" y1="2116.6" x2="967.2" y2="2116.6" stroke="#b5b5b5" stroke-width="0.7"/>
<line x1="964.45" y1="2129.3" x2="967.2" y2="2129.3" stroke="#b5b5b5" stroke-width="0.7"/>
<line x1="964.45" y1="2142" x2="967.2" y2="2142" stroke="#b5b5b5" stroke-width="0.7"/>
<line x1="964.45" y1="2154.7" x2="969.9" y2="2154.7" stroke="#4a4a4a" stroke-width="1.2"/>
<line x1="964.45" y1="2167.4" x2="967.2" y2="2167.4" stroke="#b5b5b5" stroke-width="0.7"/>
<line x1="964.45" y1="2180.1" x2="967.2" y2="2180.1" stroke="#b5b5b5" stroke-width="0.7"/>
<line x1="964.45" y1="2192.8" x2="967.2" y2="2192.8" stroke="#b5b5b5" stroke-width="0.7"/>
<line x1="964.45" y1="2205.5" x2="967.2" y2="2205.5" stroke="#b5b5b5" stroke-width="0.7"/>
<line x1="964.45" y1="2218.2" x2="967.2" y2="2218.2" stroke="#b5b5b5" stroke-width="0.7"/>
<line x1="964.45" y1="2230.9" x2="967.2" y2="2230.9" stroke="#b5b5b5" stroke-width="0.7"/>
<line x1="964.45" y1="2243.6" x2="967.2" y2="2243.6" stroke="#b5b5b5" stroke-width="0.7"/>
<line x1="964.45" y1="2256.3" x2="967.2" y2="2256.3" stroke="#b5b5b5" stroke-width="0.7"/>
<line x1="964.45" y1="2269" x2="967.2" y2="2269" stroke="#b5b5b5" stroke-width="0.7"/>
<line x1="960" y1="2281.3" x2="1586" y2="2281.3" stroke="#000" stroke-width="2.7"/>
<text transform="translate(918.45,1906.4) scale(0.9760,1)" font-size="32" fill="#000" xml:space="preserve">0.2</text>
<text transform="translate(917.92,2037.7) scale(0.9400,1)" font-size="32" fill="#000" xml:space="preserve">0.1</text>
<text transform="translate(942.18,2167) scale(0.9400,1)" font-size="32" fill="#000" xml:space="preserve">0</text>
<text transform="translate(932.23,1789.4) scale(0.9200,1)" font-size="29.5" fill="#000" xml:space="preserve">H</text>
<text transform="translate(868,2184.38) rotate(-90) scale(0.9182,1)" font-size="33.5" fill="#000" xml:space="preserve"><tspan x="0" y="0" font-size="33.5">~ 3015 cm</tspan><tspan x="157.36" y="-8.21" font-size="19.43">-1</tspan><tspan x="174.64" y="0" font-size="33.5">  (C=C-H)</tspan></text>
<text transform="translate(905,2188.43) rotate(-90) scale(0.9256,1)" font-size="33.5" fill="#000" xml:space="preserve">Unsaturated fatty acid</text>
<text transform="translate(1082.97,1814.3) scale(0.9834,1)" font-size="32.2" fill="#000" xml:space="preserve">NS</text>
<text transform="translate(1381.45,1814.3)" font-size="32.2" fill="#000" xml:space="preserve">EB</text>
<line x1="1117.6" y1="1863.8" x2="1382" y2="1863.8" stroke="#000" stroke-width="2.6"/>
<text transform="translate(1252.65,1860.36) scale(0.8600,1)" font-size="27.5" fill="#000" letter-spacing="3.28" stroke="#000" stroke-width="0.35" xml:space="preserve">***</text>
<line x1="1108.28" y1="1842.01" x2="1108.28" y2="2281" stroke="#5c5c5c" stroke-width="0.7"/>
<path d="M1108.28,1863.38C1108.33,1870.36 1108.92,1877.35 1109.54,1884.33C1109.84,1887.82 1110.45,1891.31 1111,1894.81C1111.55,1898.3 1112.44,1901.79 1112.89,1905.28C1113.34,1908.77 1113.51,1912.27 1113.94,1915.76C1114.37,1919.25 1114.87,1922.74 1115.61,1926.23C1116.36,1929.73 1117.6,1933.22 1118.97,1936.71C1120.33,1940.2 1122.53,1943.69 1124.2,1947.19C1125.88,1950.68 1127.18,1954.17 1129.02,1957.66C1130.87,1961.15 1132.95,1964.64 1135.52,1968.14C1138.08,1971.63 1141.99,1975.12 1144.95,1978.61C1147.9,1982.1 1150.64,1985.6 1153.33,1989.09C1156.01,1992.58 1158.64,1996.07 1161.08,1999.56C1163.51,2003.06 1166.01,2006.55 1167.99,2010.04C1169.98,2013.53 1171.39,2017.02 1173.23,2020.52C1175.07,2024.01 1177.01,2027.5 1179.1,2030.99C1181.18,2034.48 1183.32,2037.98 1185.8,2041.47C1188.28,2044.96 1191.22,2048.45 1194.18,2051.94C1197.14,2055.43 1201.18,2058.93 1203.61,2062.42C1205.55,2065.21 1207.6,2068.01 1208.43,2070.8C1209.26,2073.59 1210.1,2076.39 1210.1,2079.18C1210.1,2081.97 1208.92,2084.77 1207.8,2087.56C1206.68,2090.35 1204.23,2093.15 1201.51,2095.94C1198.8,2098.73 1194.6,2101.53 1189.99,2104.32C1184.23,2107.81 1175.33,2111.31 1167.99,2114.8C1160.66,2118.29 1152.76,2121.78 1145.99,2125.27C1139.22,2128.77 1131.63,2132.26 1127.14,2135.75C1122.65,2139.24 1118.66,2142.73 1116.66,2146.22C1114.67,2149.72 1112.94,2153.21 1112.47,2156.7C1112,2160.19 1111.91,2163.68 1111.63,2167.18C1111.35,2170.67 1111.1,2174.16 1110.79,2177.65C1110.48,2181.14 1110.06,2184.64 1109.75,2188.13C1109.44,2191.62 1108.91,2195.11 1108.91,2198.6C1108.91,2202.1 1108.91,2205.59 1108.91,2209.08C1108.91,2216.06 1109.33,2223.05 1109.33,2230.03C1109.33,2233.52 1109.33,2237.01 1109.33,2240.51C1109.33,2244 1109.05,2247.49 1108.91,2250.98C1108.77,2254.47 1108.71,2257.97 1108.49,2261.46C1108.45,2262.16 1108.36,2262.86 1108.28,2263.55L1108.28,2263.55C1108.2,2262.86 1108.11,2262.16 1108.07,2261.46C1107.85,2257.97 1107.79,2254.47 1107.65,2250.98C1107.51,2247.49 1107.23,2244 1107.23,2240.51C1107.23,2237.01 1107.23,2233.52 1107.23,2230.03C1107.23,2223.05 1107.65,2216.06 1107.65,2209.08C1107.65,2205.59 1107.65,2202.1 1107.65,2198.6C1107.65,2195.11 1107.12,2191.62 1106.81,2188.13C1106.5,2184.64 1106.08,2181.14 1105.77,2177.65C1105.46,2174.16 1105.21,2170.67 1104.93,2167.18C1104.65,2163.68 1104.56,2160.19 1104.09,2156.7C1103.62,2153.21 1101.89,2149.72 1099.9,2146.22C1097.9,2142.73 1093.91,2139.24 1089.42,2135.75C1084.93,2132.26 1077.34,2128.77 1070.57,2125.27C1063.8,2121.78 1055.9,2118.29 1048.57,2114.8C1041.24,2111.31 1032.33,2107.81 1026.57,2104.32C1021.96,2101.53 1017.76,2098.73 1015.05,2095.94C1012.33,2093.15 1009.88,2090.35 1008.76,2087.56C1007.64,2084.77 1006.46,2081.97 1006.46,2079.18C1006.46,2076.39 1007.3,2073.59 1008.13,2070.8C1008.96,2068.01 1011.01,2065.21 1012.95,2062.42C1015.38,2058.93 1019.42,2055.43 1022.38,2051.94C1025.34,2048.45 1028.28,2044.96 1030.76,2041.47C1033.24,2037.98 1035.38,2034.48 1037.46,2030.99C1039.55,2027.5 1041.49,2024.01 1043.33,2020.52C1045.18,2017.02 1046.58,2013.53 1048.57,2010.04C1050.56,2006.55 1053.05,2003.06 1055.48,1999.56C1057.92,1996.07 1060.55,1992.58 1063.23,1989.09C1065.92,1985.6 1068.66,1982.1 1071.62,1978.61C1074.57,1975.12 1078.48,1971.63 1081.04,1968.14C1083.61,1964.64 1085.69,1961.15 1087.54,1957.66C1089.38,1954.17 1090.68,1950.68 1092.36,1947.19C1094.03,1943.69 1096.23,1940.2 1097.59,1936.71C1098.96,1933.22 1100.2,1929.73 1100.95,1926.23C1101.69,1922.74 1102.19,1919.25 1102.62,1915.76C1103.05,1912.27 1103.22,1908.77 1103.67,1905.28C1104.12,1901.79 1105.01,1898.3 1105.56,1894.81C1106.11,1891.31 1106.72,1887.82 1107.02,1884.33C1107.64,1877.35 1108.23,1870.36 1108.28,1863.38Z" fill="#78bbf7" stroke="#2c3844" stroke-width="0.5" stroke-linejoin="round"/>
<line x1="1108.28" y1="1908.42" x2="1108.28" y2="2198.6" stroke="#120606" stroke-width="1.1"/>
<line x1="1108.28" y1="2018.21" x2="1108.28" y2="2088.82" stroke="#000" stroke-width="2.7" stroke-linecap="round"/>
<circle cx="1108.28" cy="2060.32" r="2.9" fill="#fff"/>
<path d="M1400.22,1894.39C1400.5,1901.51 1400.75,1908.63 1400.85,1915.76C1400.96,1922.74 1400.93,1929.73 1401.06,1936.71C1401.13,1940.2 1401.4,1943.69 1401.69,1947.19C1401.98,1950.68 1402.63,1954.17 1403.16,1957.66C1403.68,1961.15 1404.35,1964.64 1404.83,1968.14C1405.31,1971.63 1405.64,1975.12 1406.09,1978.61C1406.54,1982.1 1406.86,1985.6 1407.56,1989.09C1408.25,1992.58 1409.39,1996.07 1411.12,1999.56C1412.84,2003.06 1416.83,2006.55 1420.55,2010.04C1424.26,2013.53 1429.3,2017.02 1434.16,2020.52C1439.03,2024.01 1444.82,2027.5 1449.88,2030.99C1454.94,2034.48 1460.03,2037.98 1464.54,2041.47C1469.06,2044.96 1472.92,2048.45 1477.11,2051.94C1481.31,2055.43 1485.03,2058.93 1489.69,2062.42C1494.34,2065.91 1501.47,2069.4 1505.4,2072.89C1509.33,2076.39 1513.28,2079.88 1514.83,2083.37C1516.06,2086.16 1517.34,2088.96 1517.34,2091.75C1517.34,2094.54 1516.96,2097.34 1516.5,2100.13C1516.05,2102.92 1514.39,2105.72 1512.73,2108.51C1511.07,2111.31 1508.49,2114.1 1505.4,2116.89C1502.31,2119.69 1497.69,2122.48 1492.83,2125.27C1486.76,2128.77 1477.98,2132.26 1470.83,2135.75C1463.68,2139.24 1456.49,2142.73 1449.88,2146.22C1443.26,2149.72 1436.52,2153.21 1431.02,2156.7C1425.52,2160.19 1420.18,2163.68 1416.36,2167.18C1412.53,2170.67 1408.72,2174.16 1406.93,2177.65C1405.13,2181.14 1403.29,2184.64 1403.16,2188.13C1403.02,2191.62 1402.95,2195.11 1402.95,2198.6C1402.95,2202.1 1403.57,2205.59 1403.57,2209.08C1403.57,2212.57 1403.34,2216.06 1403.16,2219.56C1402.97,2223.05 1402.56,2226.54 1402.32,2230.03C1402.08,2233.52 1401.9,2237.01 1401.69,2240.51C1401.48,2244 1401.23,2247.49 1401.06,2250.98C1400.89,2254.47 1400.76,2257.97 1400.64,2261.46C1400.48,2266.35 1400.33,2271.24 1400.22,2276.12L1400.22,2276.12C1400.12,2271.24 1399.97,2266.35 1399.8,2261.46C1399.69,2257.97 1399.55,2254.47 1399.38,2250.98C1399.22,2247.49 1398.97,2244 1398.76,2240.51C1398.55,2237.01 1398.37,2233.52 1398.13,2230.03C1397.89,2226.54 1397.48,2223.05 1397.29,2219.56C1397.1,2216.06 1396.87,2212.57 1396.87,2209.08C1396.87,2205.59 1397.5,2202.1 1397.5,2198.6C1397.5,2195.11 1397.42,2191.62 1397.29,2188.13C1397.16,2184.64 1395.31,2181.14 1393.52,2177.65C1391.72,2174.16 1387.92,2170.67 1384.09,2167.18C1380.26,2163.68 1374.92,2160.19 1369.42,2156.7C1363.92,2153.21 1357.18,2149.72 1350.57,2146.22C1343.95,2142.73 1336.77,2139.24 1329.62,2135.75C1322.46,2132.26 1313.69,2128.77 1307.62,2125.27C1302.76,2122.48 1298.13,2119.69 1295.05,2116.89C1291.96,2114.1 1289.37,2111.31 1287.71,2108.51C1286.05,2105.72 1284.4,2102.92 1283.94,2100.13C1283.48,2097.34 1283.1,2094.54 1283.1,2091.75C1283.1,2088.96 1284.38,2086.16 1285.62,2083.37C1287.16,2079.88 1291.12,2076.39 1295.05,2072.89C1298.97,2069.4 1306.1,2065.91 1310.76,2062.42C1315.42,2058.93 1319.14,2055.43 1323.33,2051.94C1327.52,2048.45 1331.39,2044.96 1335.9,2041.47C1340.41,2037.98 1345.51,2034.48 1350.57,2030.99C1355.62,2027.5 1361.42,2024.01 1366.28,2020.52C1371.14,2017.02 1376.19,2013.53 1379.9,2010.04C1383.61,2006.55 1387.6,2003.06 1389.33,1999.56C1391.05,1996.07 1392.2,1992.58 1392.89,1989.09C1393.58,1985.6 1393.9,1982.1 1394.36,1978.61C1394.81,1975.12 1395.13,1971.63 1395.61,1968.14C1396.09,1964.64 1396.77,1961.15 1397.29,1957.66C1397.81,1954.17 1398.46,1950.68 1398.76,1947.19C1399.05,1943.69 1399.32,1940.2 1399.38,1936.71C1399.51,1929.73 1399.49,1922.74 1399.59,1915.76C1399.7,1908.63 1399.94,1901.51 1400.22,1894.39Z" fill="#cd4935" stroke="#5e241b" stroke-width="0.5" stroke-linejoin="round"/>
<line x1="1400.22" y1="1980.29" x2="1400.22" y2="2194.83" stroke="#120606" stroke-width="1.1"/>
<line x1="1400.22" y1="2064.93" x2="1400.22" y2="2118.57" stroke="#000" stroke-width="2.7" stroke-linecap="round"/>
<circle cx="1400.22" cy="2093.85" r="2.9" fill="#fff"/>
</svg>
</body></html>
